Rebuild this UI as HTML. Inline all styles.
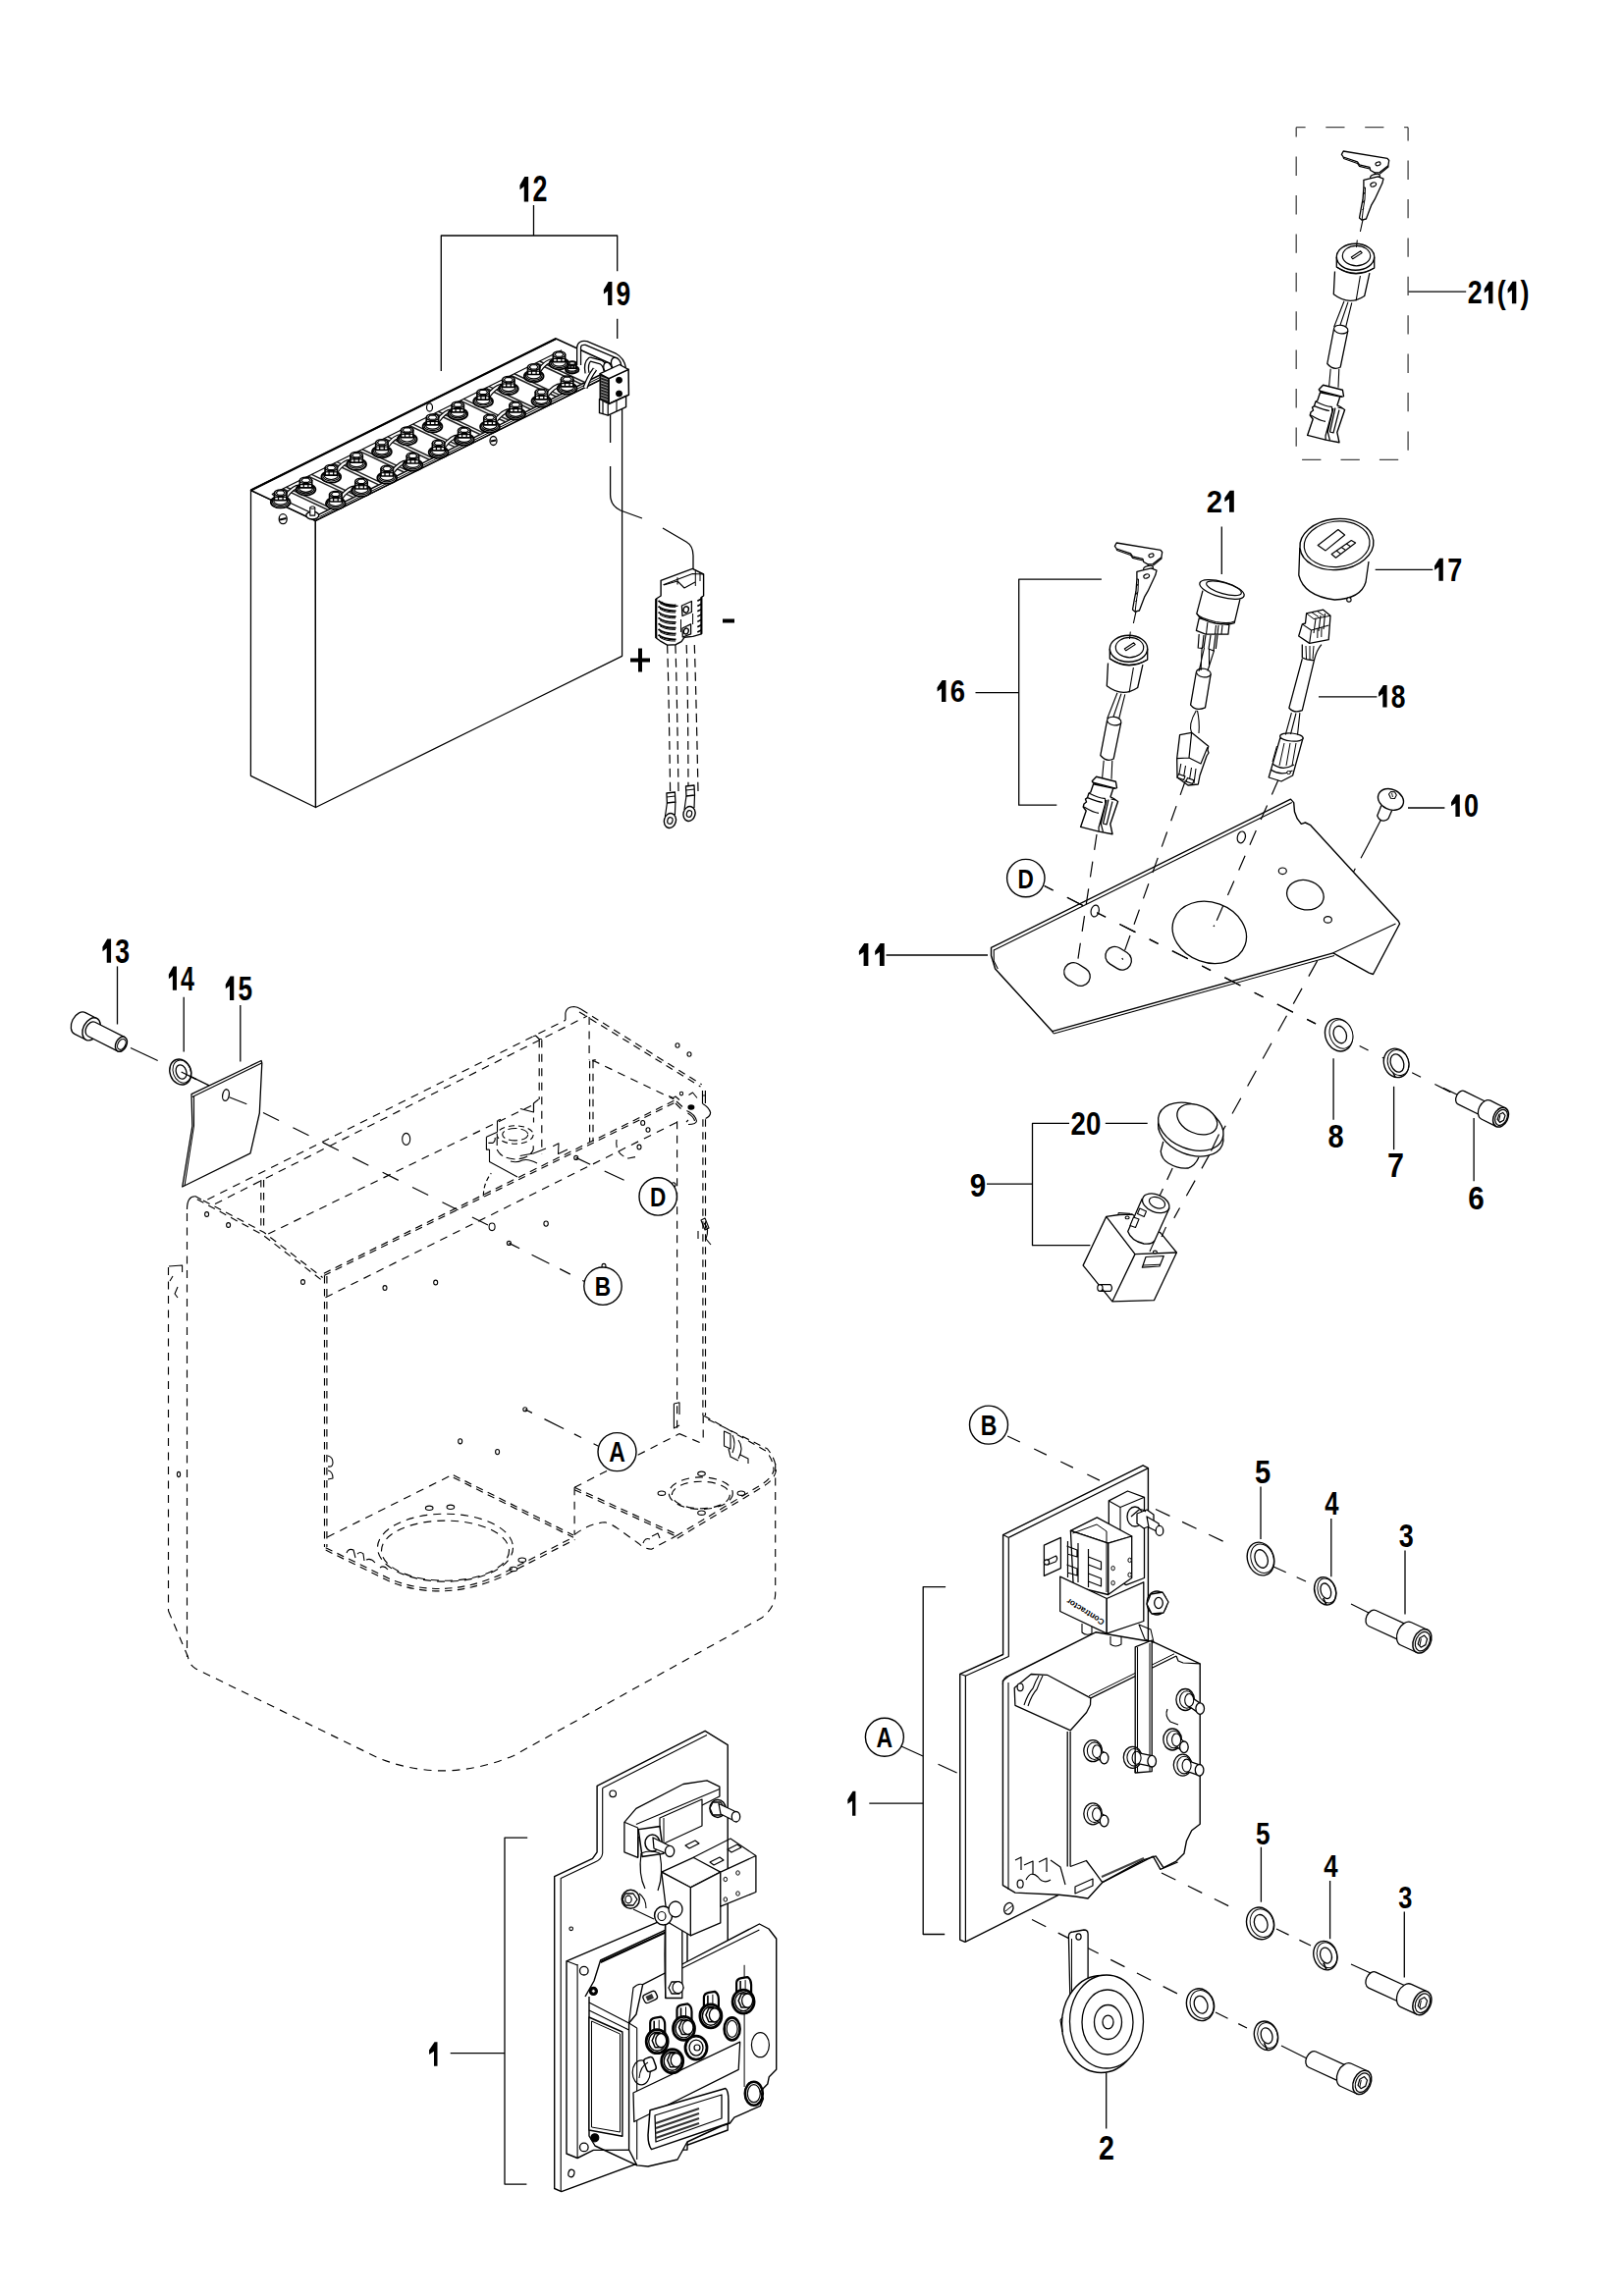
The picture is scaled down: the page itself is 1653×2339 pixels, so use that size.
<!DOCTYPE html>
<html><head><meta charset="utf-8"><style>
html,body{margin:0;padding:0;background:#fff;}
svg{display:block;}
text{font-family:"Liberation Sans",sans-serif;}
</style></head><body>
<svg xmlns="http://www.w3.org/2000/svg" width="1653" height="2339" viewBox="0 0 1653 2339" stroke="#000" fill="none" stroke-linecap="butt" stroke-linejoin="round">
<rect x="0" y="0" width="1653" height="2339" fill="#fff" stroke="none"/>
<path d="M538.15,180.00 L538.15,205.40 L533.78,205.40 L533.78,189.94 L529.53,193.25 L529.40,188.65 L534.31,180.00 Z" fill="#000" stroke="none"/>
<text x="0" y="0" font-size="36.81" font-weight="bold" stroke="none" fill="#000" transform="translate(542.45,205.40) scale(0.7293,1)">2</text>
<path d="M623.40,287.00 L623.40,311.00 L619.10,311.00 L619.10,296.39 L614.93,299.52 L614.80,295.17 L619.63,287.00 Z" fill="#000" stroke="none"/>
<text x="0" y="0" font-size="34.78" font-weight="bold" stroke="none" fill="#000" transform="translate(627.61,311.00) scale(0.7581,1)">9</text>
<text x="0" y="0" font-size="31.88" font-weight="bold" stroke="none" fill="#000" transform="translate(1228.87,521.70) scale(0.9200,1)">2</text>
<path d="M1256.80,499.70 L1256.80,521.70 L1252.02,521.70 L1252.02,508.31 L1247.38,511.18 L1247.24,507.19 L1252.61,499.70 Z" fill="#000" stroke="none"/>
<path d="M1469.82,568.70 L1469.82,591.80 L1465.41,591.80 L1465.41,577.74 L1461.14,580.75 L1461.00,576.57 L1465.95,568.70 Z" fill="#000" stroke="none"/>
<text x="0" y="0" font-size="33.48" font-weight="bold" stroke="none" fill="#000" transform="translate(1474.15,591.80) scale(0.8081,1)">7</text>
<path d="M963.44,692.90 L963.44,715.00 L958.97,715.00 L958.97,701.55 L954.64,704.43 L954.50,700.43 L959.52,692.90 Z" fill="#000" stroke="none"/>
<text x="0" y="0" font-size="32.03" font-weight="bold" stroke="none" fill="#000" transform="translate(967.83,715.00) scale(0.8566,1)">6</text>
<path d="M1412.61,698.00 L1412.61,720.50 L1408.30,720.50 L1408.30,706.80 L1404.13,709.74 L1404.00,705.66 L1408.83,698.00 Z" fill="#000" stroke="none"/>
<text x="0" y="0" font-size="32.61" font-weight="bold" stroke="none" fill="#000" transform="translate(1416.84,720.50) scale(0.8099,1)">8</text>
<path d="M1486.79,809.50 L1486.79,832.00 L1482.40,832.00 L1482.40,818.30 L1478.13,821.24 L1478.00,817.16 L1482.94,809.50 Z" fill="#000" stroke="none"/>
<text x="0" y="0" font-size="32.61" font-weight="bold" stroke="none" fill="#000" transform="translate(1491.11,832.00) scale(0.8272,1)">0</text>
<path d="M884.37,961.10 L884.37,984.10 L879.59,984.10 L879.59,970.10 L874.95,973.10 L874.80,968.93 L880.17,961.10 Z" fill="#000" stroke="none"/>
<path d="M900.70,961.10 L900.70,984.10 L895.91,984.10 L895.91,970.10 L891.27,973.10 L891.13,968.93 L896.50,961.10 Z" fill="#000" stroke="none"/>
<path d="M113.08,956.60 L113.08,980.70 L108.74,980.70 L108.74,966.03 L104.53,969.17 L104.40,964.81 L109.28,956.60 Z" fill="#000" stroke="none"/>
<text x="0" y="0" font-size="34.93" font-weight="bold" stroke="none" fill="#000" transform="translate(117.35,980.70) scale(0.7627,1)">3</text>
<path d="M179.94,984.40 L179.94,1008.80 L175.87,1008.80 L175.87,993.95 L171.92,997.13 L171.80,992.71 L176.37,984.40 Z" fill="#000" stroke="none"/>
<text x="0" y="0" font-size="35.36" font-weight="bold" stroke="none" fill="#000" transform="translate(183.94,1008.80) scale(0.7063,1)">4</text>
<path d="M238.25,994.50 L238.25,1019.10 L233.98,1019.10 L233.98,1004.13 L229.83,1007.33 L229.70,1002.88 L234.50,994.50 Z" fill="#000" stroke="none"/>
<text x="0" y="0" font-size="35.65" font-weight="bold" stroke="none" fill="#000" transform="translate(242.45,1019.10) scale(0.7358,1)">5</text>
<text x="0" y="0" font-size="33.19" font-weight="bold" stroke="none" fill="#000" transform="translate(1090.53,1155.80) scale(0.8318,1)">2</text>
<text x="0" y="0" font-size="33.19" font-weight="bold" stroke="none" fill="#000" transform="translate(1105.88,1155.80) scale(0.8318,1)">0</text>
<text x="0" y="0" font-size="33.62" font-weight="bold" stroke="none" fill="#000" transform="translate(987.87,1219.40) scale(0.8787,1)">9</text>
<text x="0" y="0" font-size="33.62" font-weight="bold" stroke="none" fill="#000" transform="translate(1352.57,1169.40) scale(0.8627,1)">8</text>
<text x="0" y="0" font-size="34.78" font-weight="bold" stroke="none" fill="#000" transform="translate(1412.89,1198.70) scale(0.8766,1)">7</text>
<text x="0" y="0" font-size="33.62" font-weight="bold" stroke="none" fill="#000" transform="translate(1495.30,1231.90) scale(0.8805,1)">6</text>
<text x="0" y="0" font-size="33.19" font-weight="bold" stroke="none" fill="#000" transform="translate(1278.10,1510.80) scale(0.8791,1)">5</text>
<text x="0" y="0" font-size="33.19" font-weight="bold" stroke="none" fill="#000" transform="translate(1349.32,1543.20) scale(0.7701,1)">4</text>
<text x="0" y="0" font-size="33.19" font-weight="bold" stroke="none" fill="#000" transform="translate(1424.68,1575.70) scale(0.8124,1)">3</text>
<path d="M871.40,1824.80 L871.40,1849.70 L868.07,1849.70 L868.07,1834.54 L863.42,1837.79 L863.30,1833.28 L868.57,1824.80 Z" fill="#000" stroke="none"/>
<text x="0" y="0" font-size="31.45" font-weight="bold" stroke="none" fill="#000" transform="translate(1278.89,1878.60) scale(0.8317,1)">5</text>
<text x="0" y="0" font-size="31.45" font-weight="bold" stroke="none" fill="#000" transform="translate(1348.31,1912.10) scale(0.8187,1)">4</text>
<text x="0" y="0" font-size="31.30" font-weight="bold" stroke="none" fill="#000" transform="translate(1424.22,1943.60) scale(0.8099,1)">3</text>
<text x="0" y="0" font-size="34.35" font-weight="bold" stroke="none" fill="#000" transform="translate(1119.00,2200.00) scale(0.8353,1)">2</text>
<path d="M445.50,2080.20 L445.50,2104.80 L442.01,2104.80 L442.01,2089.83 L437.13,2093.03 L437.00,2088.58 L442.53,2080.20 Z" fill="#000" stroke="none"/>
<text x="0" y="0" font-size="32.61" font-weight="bold" stroke="none" fill="#000" transform="translate(1494.86,309.30) scale(0.8236,1)">2</text>
<path d="M1520.43,286.80 L1520.43,309.30 L1516.05,309.30 L1516.05,295.60 L1511.81,298.54 L1511.67,294.46 L1516.59,286.80 Z" fill="#000" stroke="none"/>
<text x="0" y="0" font-size="32.61" font-weight="bold" stroke="none" fill="#000" transform="translate(1524.72,309.30) scale(0.8236,1)">(</text>
<path d="M1544.30,286.80 L1544.30,309.30 L1539.93,309.30 L1539.93,295.60 L1535.68,298.54 L1535.55,294.46 L1540.46,286.80 Z" fill="#000" stroke="none"/>
<text x="0" y="0" font-size="32.61" font-weight="bold" stroke="none" fill="#000" transform="translate(1548.60,309.30) scale(0.8236,1)">)</text>
<line x1="543.5" y1="209.0" x2="543.5" y2="240.0" stroke-width="1.3"/>
<path d="M449.3,378 V240 H628.7 V276.3" stroke-width="1.3" fill="none"/>
<line x1="628.7" y1="324.8" x2="628.7" y2="345.0" stroke-width="1.3"/>
<line x1="1434.2" y1="297.2" x2="1493.2" y2="297.2" stroke-width="1.3"/>
<line x1="1244.3" y1="536.6" x2="1244.3" y2="584.9" stroke-width="1.3"/>
<line x1="1400.7" y1="580.4" x2="1459.3" y2="580.4" stroke-width="1.3"/>
<line x1="993.5" y1="705.7" x2="1037.7" y2="705.7" stroke-width="1.3"/>
<path d="M1121.9,590.1 H1037.7 V820.2 H1076.3" stroke-width="1.3" fill="none"/>
<line x1="1343.0" y1="709.8" x2="1402.4" y2="709.8" stroke-width="1.3"/>
<line x1="1434.0" y1="823.0" x2="1471.4" y2="823.0" stroke-width="1.3"/>
<line x1="902.5" y1="973.0" x2="1006.0" y2="973.0" stroke-width="1.3"/>
<line x1="119.5" y1="984.4" x2="119.5" y2="1043.5" stroke-width="1.3"/>
<line x1="187.2" y1="1015.8" x2="187.2" y2="1071.6" stroke-width="1.3"/>
<line x1="244.8" y1="1024.1" x2="244.8" y2="1081.4" stroke-width="1.3"/>
<line x1="1125.8" y1="1144.4" x2="1168.7" y2="1144.4" stroke-width="1.3"/>
<path d="M1089,1144.4 H1051.5 V1268.7 H1110.4" stroke-width="1.3" fill="none"/>
<line x1="1005.0" y1="1206.2" x2="1051.5" y2="1206.2" stroke-width="1.3"/>
<line x1="1358.1" y1="1078.2" x2="1358.1" y2="1140.8" stroke-width="1.3"/>
<line x1="1419.6" y1="1106.8" x2="1419.6" y2="1171.2" stroke-width="1.3"/>
<line x1="1501.1" y1="1139.0" x2="1501.1" y2="1203.3" stroke-width="1.3"/>
<line x1="1284.0" y1="1514.6" x2="1284.0" y2="1568.0" stroke-width="1.3"/>
<line x1="1355.8" y1="1547.0" x2="1355.8" y2="1606.3" stroke-width="1.3"/>
<line x1="1431.0" y1="1579.5" x2="1431.0" y2="1644.5" stroke-width="1.3"/>
<path d="M963.1,1616.6 H940.2 V1970.5 H962.2" stroke-width="1.3" fill="none"/>
<line x1="885.3" y1="1837.2" x2="940.2" y2="1837.2" stroke-width="1.3"/>
<line x1="1284.4" y1="1881.7" x2="1284.4" y2="1937.7" stroke-width="1.3"/>
<line x1="1354.6" y1="1916.0" x2="1354.6" y2="1975.2" stroke-width="1.3"/>
<line x1="1430.3" y1="1947.6" x2="1430.3" y2="2014.6" stroke-width="1.3"/>
<line x1="1126.7" y1="2111.2" x2="1126.7" y2="2168.4" stroke-width="1.3"/>
<path d="M537.2,1872.1 H514 V2225.1 H536.4" stroke-width="1.3" fill="none"/>
<line x1="458.7" y1="2091.6" x2="514.0" y2="2091.6" stroke-width="1.3"/>
<rect x="642" y="670.5" width="20" height="4" fill="#000" stroke="none"/>
<rect x="650" y="660.5" width="4" height="24" fill="#000" stroke="none"/>
<rect x="736" y="630.5" width="12" height="4" fill="#000" stroke="none"/>
<polygon points="255.5,499.5 321.3,530.5 321.5,822.5 255.4,790.3" stroke-width="1.3" fill="#fff"/>
<polygon points="321.3,530.5 633.6,376.0 633.6,668.3 321.5,822.5" stroke-width="1.3" fill="#fff"/>
<polygon points="255.5,499.5 566.3,345.0 633.6,376.0 321.3,530.5" stroke-width="1.5" fill="#fff"/>
<line x1="255.5" y1="499.5" x2="566.3" y2="345.0" stroke-width="2.2"/>
<line x1="322.9" y1="525.2" x2="618.2" y2="378.5" stroke-width="1.5"/>
<line x1="325.5" y1="526.5" x2="623.9" y2="378.2" stroke-width="1.0"/>
<line x1="276.9" y1="503.5" x2="322.9" y2="525.2" stroke-width="1.2"/>
<line x1="288.2" y1="497.9" x2="334.6" y2="519.8" stroke="#222" stroke-width="1.5"/>
<line x1="291.6" y1="496.2" x2="338.0" y2="518.1" stroke="#222" stroke-width="1.5"/>
<line x1="314.0" y1="485.1" x2="360.4" y2="506.9" stroke="#222" stroke-width="1.5"/>
<line x1="317.4" y1="483.4" x2="363.8" y2="505.2" stroke="#222" stroke-width="1.5"/>
<line x1="339.8" y1="472.3" x2="386.2" y2="494.1" stroke="#222" stroke-width="1.5"/>
<line x1="343.2" y1="470.6" x2="389.6" y2="492.4" stroke="#222" stroke-width="1.5"/>
<line x1="365.6" y1="459.4" x2="412.0" y2="481.3" stroke="#222" stroke-width="1.5"/>
<line x1="369.0" y1="457.7" x2="415.4" y2="479.6" stroke="#222" stroke-width="1.5"/>
<line x1="391.4" y1="446.6" x2="437.8" y2="468.5" stroke="#222" stroke-width="1.5"/>
<line x1="394.8" y1="444.9" x2="441.2" y2="466.8" stroke="#222" stroke-width="1.5"/>
<line x1="417.2" y1="433.8" x2="463.6" y2="455.6" stroke="#222" stroke-width="1.5"/>
<line x1="420.6" y1="432.1" x2="467.0" y2="453.9" stroke="#222" stroke-width="1.5"/>
<line x1="443.0" y1="421.0" x2="489.4" y2="442.8" stroke="#222" stroke-width="1.5"/>
<line x1="446.4" y1="419.3" x2="492.8" y2="441.1" stroke="#222" stroke-width="1.5"/>
<line x1="468.8" y1="408.1" x2="515.2" y2="430.0" stroke="#222" stroke-width="1.5"/>
<line x1="472.2" y1="406.4" x2="518.6" y2="428.3" stroke="#222" stroke-width="1.5"/>
<line x1="494.6" y1="395.3" x2="541.0" y2="417.2" stroke="#222" stroke-width="1.5"/>
<line x1="498.0" y1="393.6" x2="544.4" y2="415.5" stroke="#222" stroke-width="1.5"/>
<line x1="520.4" y1="382.5" x2="566.8" y2="404.3" stroke="#222" stroke-width="1.5"/>
<line x1="523.8" y1="380.8" x2="570.2" y2="402.6" stroke="#222" stroke-width="1.5"/>
<line x1="546.2" y1="369.7" x2="592.5" y2="391.5" stroke="#222" stroke-width="1.5"/>
<line x1="549.6" y1="368.0" x2="596.0" y2="389.8" stroke="#222" stroke-width="1.5"/>
<line x1="276.9" y1="503.5" x2="572.1" y2="356.8" stroke-width="1.2"/>
<path d="M290.7,506.3 Q298.6,495.4 305.5,495.5" stroke-width="4.6" fill="none"/>
<path d="M290.7,506.3 Q298.6,495.4 305.5,495.5" stroke-width="2.2" fill="none" stroke="#fff"/>
<path d="M342.3,480.6 Q350.2,469.7 357.1,469.8" stroke-width="4.6" fill="none"/>
<path d="M342.3,480.6 Q350.2,469.7 357.1,469.8" stroke-width="2.2" fill="none" stroke="#fff"/>
<path d="M393.9,455.0 Q401.8,444.1 408.7,444.2" stroke-width="4.6" fill="none"/>
<path d="M393.9,455.0 Q401.8,444.1 408.7,444.2" stroke-width="2.2" fill="none" stroke="#fff"/>
<path d="M445.5,429.4 Q453.4,418.4 460.3,418.5" stroke-width="4.6" fill="none"/>
<path d="M445.5,429.4 Q453.4,418.4 460.3,418.5" stroke-width="2.2" fill="none" stroke="#fff"/>
<path d="M497.1,403.7 Q505.0,392.8 511.9,392.9" stroke-width="4.6" fill="none"/>
<path d="M497.1,403.7 Q505.0,392.8 511.9,392.9" stroke-width="2.2" fill="none" stroke="#fff"/>
<path d="M548.7,378.1 Q556.6,367.1 563.5,367.2" stroke-width="4.6" fill="none"/>
<path d="M548.7,378.1 Q556.6,367.1 563.5,367.2" stroke-width="2.2" fill="none" stroke="#fff"/>
<path d="M346.8,507.6 Q354.9,496.6 362.0,496.6" stroke-width="4.6" fill="none"/>
<path d="M346.8,507.6 Q354.9,496.6 362.0,496.6" stroke-width="2.2" fill="none" stroke="#fff"/>
<path d="M399.2,481.6 Q407.3,470.6 414.4,470.5" stroke-width="4.6" fill="none"/>
<path d="M399.2,481.6 Q407.3,470.6 414.4,470.5" stroke-width="2.2" fill="none" stroke="#fff"/>
<path d="M451.6,455.5 Q459.7,444.5 466.8,444.5" stroke-width="4.6" fill="none"/>
<path d="M451.6,455.5 Q459.7,444.5 466.8,444.5" stroke-width="2.2" fill="none" stroke="#fff"/>
<path d="M504.0,429.5 Q512.1,418.5 519.2,418.4" stroke-width="4.6" fill="none"/>
<path d="M504.0,429.5 Q512.1,418.5 519.2,418.4" stroke-width="2.2" fill="none" stroke="#fff"/>
<path d="M556.4,403.4 Q564.5,392.4 571.6,392.4" stroke-width="4.6" fill="none"/>
<path d="M556.4,403.4 Q564.5,392.4 571.6,392.4" stroke-width="2.2" fill="none" stroke="#fff"/>
<ellipse cx="285.7" cy="511.5" rx="9.9" ry="5.9" stroke-width="1.8" fill="#fff"/>
<ellipse cx="285.7" cy="510.8" rx="8.4" ry="4.8" stroke-width="1.2" fill="#fff"/>
<ellipse cx="285.7" cy="510.2" rx="7.0" ry="4.0" stroke-width="1.2" fill="#fff"/>
<path d="M279.5,509.7 V502.2 H291.9 V509.7 Z" fill="#fff" stroke-width="1.7"/>
<line x1="283.5" y1="502.5" x2="283.5" y2="509.7" stroke-width="1.3"/>
<line x1="288.1" y1="502.5" x2="288.1" y2="509.7" stroke-width="1.3"/>
<line x1="279.5" y1="506.4" x2="291.9" y2="506.4" stroke-width="1.2"/>
<ellipse cx="285.7" cy="502.2" rx="6.2" ry="3.2" stroke-width="1.5" fill="#fff"/>
<polygon points="281.1,502.2 283.3,500.0 288.1,500.0 290.3,502.2 288.1,504.2 283.3,504.2" fill="#fff" stroke-width="1.1"/>
<ellipse cx="311.5" cy="498.6" rx="9.9" ry="5.9" stroke-width="1.8" fill="#fff"/>
<ellipse cx="311.5" cy="498.0" rx="8.4" ry="4.8" stroke-width="1.2" fill="#fff"/>
<ellipse cx="311.5" cy="497.3" rx="7.0" ry="4.0" stroke-width="1.2" fill="#fff"/>
<path d="M305.3,496.9 V489.4 H317.7 V496.9 Z" fill="#fff" stroke-width="1.7"/>
<line x1="309.3" y1="489.6" x2="309.3" y2="496.9" stroke-width="1.3"/>
<line x1="313.9" y1="489.6" x2="313.9" y2="496.9" stroke-width="1.3"/>
<line x1="305.3" y1="493.6" x2="317.7" y2="493.6" stroke-width="1.2"/>
<ellipse cx="311.5" cy="489.4" rx="6.2" ry="3.2" stroke-width="1.5" fill="#fff"/>
<polygon points="306.9,489.4 309.1,487.2 313.9,487.2 316.1,489.4 313.9,491.4 309.1,491.4" fill="#fff" stroke-width="1.1"/>
<ellipse cx="337.3" cy="485.8" rx="9.9" ry="5.9" stroke-width="1.8" fill="#fff"/>
<ellipse cx="337.3" cy="485.2" rx="8.4" ry="4.8" stroke-width="1.2" fill="#fff"/>
<ellipse cx="337.3" cy="484.5" rx="7.0" ry="4.0" stroke-width="1.2" fill="#fff"/>
<path d="M331.1,484.1 V476.6 H343.5 V484.1 Z" fill="#fff" stroke-width="1.7"/>
<line x1="335.1" y1="476.8" x2="335.1" y2="484.1" stroke-width="1.3"/>
<line x1="339.7" y1="476.8" x2="339.7" y2="484.1" stroke-width="1.3"/>
<line x1="331.1" y1="480.8" x2="343.5" y2="480.8" stroke-width="1.2"/>
<ellipse cx="337.3" cy="476.6" rx="6.2" ry="3.2" stroke-width="1.5" fill="#fff"/>
<polygon points="332.7,476.6 334.9,474.4 339.7,474.4 341.9,476.6 339.7,478.6 334.9,478.6" fill="#fff" stroke-width="1.1"/>
<ellipse cx="363.1" cy="473.0" rx="9.9" ry="5.9" stroke-width="1.8" fill="#fff"/>
<ellipse cx="363.1" cy="472.3" rx="8.4" ry="4.8" stroke-width="1.2" fill="#fff"/>
<ellipse cx="363.1" cy="471.7" rx="7.0" ry="4.0" stroke-width="1.2" fill="#fff"/>
<path d="M356.9,471.2 V463.8 H369.3 V471.2 Z" fill="#fff" stroke-width="1.7"/>
<line x1="360.9" y1="464.0" x2="360.9" y2="471.2" stroke-width="1.3"/>
<line x1="365.5" y1="464.0" x2="365.5" y2="471.2" stroke-width="1.3"/>
<line x1="356.9" y1="467.9" x2="369.3" y2="467.9" stroke-width="1.2"/>
<ellipse cx="363.1" cy="463.8" rx="6.2" ry="3.2" stroke-width="1.5" fill="#fff"/>
<polygon points="358.5,463.8 360.7,461.6 365.5,461.6 367.7,463.8 365.5,465.7 360.7,465.7" fill="#fff" stroke-width="1.1"/>
<ellipse cx="388.9" cy="460.2" rx="9.9" ry="5.9" stroke-width="1.8" fill="#fff"/>
<ellipse cx="388.9" cy="459.5" rx="8.4" ry="4.8" stroke-width="1.2" fill="#fff"/>
<ellipse cx="388.9" cy="458.9" rx="7.0" ry="4.0" stroke-width="1.2" fill="#fff"/>
<path d="M382.7,458.4 V450.9 H395.1 V458.4 Z" fill="#fff" stroke-width="1.7"/>
<line x1="386.7" y1="451.2" x2="386.7" y2="458.4" stroke-width="1.3"/>
<line x1="391.3" y1="451.2" x2="391.3" y2="458.4" stroke-width="1.3"/>
<line x1="382.7" y1="455.1" x2="395.1" y2="455.1" stroke-width="1.2"/>
<ellipse cx="388.9" cy="450.9" rx="6.2" ry="3.2" stroke-width="1.5" fill="#fff"/>
<polygon points="384.3,450.9 386.5,448.7 391.3,448.7 393.5,450.9 391.3,452.9 386.5,452.9" fill="#fff" stroke-width="1.1"/>
<ellipse cx="414.7" cy="447.4" rx="9.9" ry="5.9" stroke-width="1.8" fill="#fff"/>
<ellipse cx="414.7" cy="446.7" rx="8.4" ry="4.8" stroke-width="1.2" fill="#fff"/>
<ellipse cx="414.7" cy="446.0" rx="7.0" ry="4.0" stroke-width="1.2" fill="#fff"/>
<path d="M408.5,445.6 V438.1 H420.8 V445.6 Z" fill="#fff" stroke-width="1.7"/>
<line x1="412.5" y1="438.3" x2="412.5" y2="445.6" stroke-width="1.3"/>
<line x1="417.1" y1="438.3" x2="417.1" y2="445.6" stroke-width="1.3"/>
<line x1="408.5" y1="442.3" x2="420.8" y2="442.3" stroke-width="1.2"/>
<ellipse cx="414.7" cy="438.1" rx="6.2" ry="3.2" stroke-width="1.5" fill="#fff"/>
<polygon points="410.1,438.1 412.3,435.9 417.1,435.9 419.3,438.1 417.1,440.1 412.3,440.1" fill="#fff" stroke-width="1.1"/>
<ellipse cx="440.5" cy="434.5" rx="9.9" ry="5.9" stroke-width="1.8" fill="#fff"/>
<ellipse cx="440.5" cy="433.9" rx="8.4" ry="4.8" stroke-width="1.2" fill="#fff"/>
<ellipse cx="440.5" cy="433.2" rx="7.0" ry="4.0" stroke-width="1.2" fill="#fff"/>
<path d="M434.3,432.8 V425.3 H446.6 V432.8 Z" fill="#fff" stroke-width="1.7"/>
<line x1="438.3" y1="425.5" x2="438.3" y2="432.8" stroke-width="1.3"/>
<line x1="442.9" y1="425.5" x2="442.9" y2="432.8" stroke-width="1.3"/>
<line x1="434.3" y1="429.5" x2="446.6" y2="429.5" stroke-width="1.2"/>
<ellipse cx="440.5" cy="425.3" rx="6.2" ry="3.2" stroke-width="1.5" fill="#fff"/>
<polygon points="435.9,425.3 438.1,423.1 442.9,423.1 445.1,425.3 442.9,427.3 438.1,427.3" fill="#fff" stroke-width="1.1"/>
<ellipse cx="466.3" cy="421.7" rx="9.9" ry="5.9" stroke-width="1.8" fill="#fff"/>
<ellipse cx="466.3" cy="421.0" rx="8.4" ry="4.8" stroke-width="1.2" fill="#fff"/>
<ellipse cx="466.3" cy="420.4" rx="7.0" ry="4.0" stroke-width="1.2" fill="#fff"/>
<path d="M460.1,419.9 V412.5 H472.4 V419.9 Z" fill="#fff" stroke-width="1.7"/>
<line x1="464.1" y1="412.7" x2="464.1" y2="419.9" stroke-width="1.3"/>
<line x1="468.7" y1="412.7" x2="468.7" y2="419.9" stroke-width="1.3"/>
<line x1="460.1" y1="416.6" x2="472.4" y2="416.6" stroke-width="1.2"/>
<ellipse cx="466.3" cy="412.5" rx="6.2" ry="3.2" stroke-width="1.5" fill="#fff"/>
<polygon points="461.7,412.5 463.9,410.3 468.7,410.3 470.9,412.5 468.7,414.4 463.9,414.4" fill="#fff" stroke-width="1.1"/>
<ellipse cx="492.1" cy="408.9" rx="9.9" ry="5.9" stroke-width="1.8" fill="#fff"/>
<ellipse cx="492.1" cy="408.2" rx="8.4" ry="4.8" stroke-width="1.2" fill="#fff"/>
<ellipse cx="492.1" cy="407.6" rx="7.0" ry="4.0" stroke-width="1.2" fill="#fff"/>
<path d="M485.9,407.1 V399.6 H498.2 V407.1 Z" fill="#fff" stroke-width="1.7"/>
<line x1="489.9" y1="399.9" x2="489.9" y2="407.1" stroke-width="1.3"/>
<line x1="494.5" y1="399.9" x2="494.5" y2="407.1" stroke-width="1.3"/>
<line x1="485.9" y1="403.8" x2="498.2" y2="403.8" stroke-width="1.2"/>
<ellipse cx="492.1" cy="399.6" rx="6.2" ry="3.2" stroke-width="1.5" fill="#fff"/>
<polygon points="487.5,399.6 489.7,397.4 494.5,397.4 496.7,399.6 494.5,401.6 489.7,401.6" fill="#fff" stroke-width="1.1"/>
<ellipse cx="517.9" cy="396.1" rx="9.9" ry="5.9" stroke-width="1.8" fill="#fff"/>
<ellipse cx="517.9" cy="395.4" rx="8.4" ry="4.8" stroke-width="1.2" fill="#fff"/>
<ellipse cx="517.9" cy="394.7" rx="7.0" ry="4.0" stroke-width="1.2" fill="#fff"/>
<path d="M511.7,394.3 V386.8 H524.0 V394.3 Z" fill="#fff" stroke-width="1.7"/>
<line x1="515.7" y1="387.0" x2="515.7" y2="394.3" stroke-width="1.3"/>
<line x1="520.3" y1="387.0" x2="520.3" y2="394.3" stroke-width="1.3"/>
<line x1="511.7" y1="391.0" x2="524.0" y2="391.0" stroke-width="1.2"/>
<ellipse cx="517.9" cy="386.8" rx="6.2" ry="3.2" stroke-width="1.5" fill="#fff"/>
<polygon points="513.3,386.8 515.5,384.6 520.3,384.6 522.5,386.8 520.3,388.8 515.5,388.8" fill="#fff" stroke-width="1.1"/>
<ellipse cx="543.7" cy="383.2" rx="9.9" ry="5.9" stroke-width="1.8" fill="#fff"/>
<ellipse cx="543.7" cy="382.6" rx="8.4" ry="4.8" stroke-width="1.2" fill="#fff"/>
<ellipse cx="543.7" cy="381.9" rx="7.0" ry="4.0" stroke-width="1.2" fill="#fff"/>
<path d="M537.5,381.5 V374.0 H549.8 V381.5 Z" fill="#fff" stroke-width="1.7"/>
<line x1="541.5" y1="374.2" x2="541.5" y2="381.5" stroke-width="1.3"/>
<line x1="546.1" y1="374.2" x2="546.1" y2="381.5" stroke-width="1.3"/>
<line x1="537.5" y1="378.2" x2="549.8" y2="378.2" stroke-width="1.2"/>
<ellipse cx="543.7" cy="374.0" rx="6.2" ry="3.2" stroke-width="1.5" fill="#fff"/>
<polygon points="539.1,374.0 541.3,371.8 546.1,371.8 548.3,374.0 546.1,376.0 541.3,376.0" fill="#fff" stroke-width="1.1"/>
<ellipse cx="569.5" cy="370.4" rx="9.9" ry="5.9" stroke-width="1.8" fill="#fff"/>
<ellipse cx="569.5" cy="369.8" rx="8.4" ry="4.8" stroke-width="1.2" fill="#fff"/>
<ellipse cx="569.5" cy="369.1" rx="7.0" ry="4.0" stroke-width="1.2" fill="#fff"/>
<path d="M563.3,368.7 V361.2 H575.6 V368.7 Z" fill="#fff" stroke-width="1.7"/>
<line x1="567.3" y1="361.4" x2="567.3" y2="368.7" stroke-width="1.3"/>
<line x1="571.9" y1="361.4" x2="571.9" y2="368.7" stroke-width="1.3"/>
<line x1="563.3" y1="365.4" x2="575.6" y2="365.4" stroke-width="1.2"/>
<ellipse cx="569.5" cy="361.2" rx="6.2" ry="3.2" stroke-width="1.5" fill="#fff"/>
<polygon points="564.8,361.2 567.0,359.0 571.9,359.0 574.1,361.2 571.9,363.2 567.0,363.2" fill="#fff" stroke-width="1.1"/>
<ellipse cx="341.8" cy="512.8" rx="9.9" ry="5.9" stroke-width="1.8" fill="#fff"/>
<ellipse cx="341.8" cy="512.1" rx="8.4" ry="4.8" stroke-width="1.2" fill="#fff"/>
<ellipse cx="341.8" cy="511.5" rx="7.0" ry="4.0" stroke-width="1.2" fill="#fff"/>
<path d="M335.6,511.0 V503.6 H348.0 V511.0 Z" fill="#fff" stroke-width="1.7"/>
<line x1="339.6" y1="503.8" x2="339.6" y2="511.0" stroke-width="1.3"/>
<line x1="344.2" y1="503.8" x2="344.2" y2="511.0" stroke-width="1.3"/>
<line x1="335.6" y1="507.7" x2="348.0" y2="507.7" stroke-width="1.2"/>
<ellipse cx="341.8" cy="503.6" rx="6.2" ry="3.2" stroke-width="1.5" fill="#fff"/>
<polygon points="337.2,503.6 339.4,501.4 344.2,501.4 346.4,503.6 344.2,505.5 339.4,505.5" fill="#fff" stroke-width="1.1"/>
<ellipse cx="368.0" cy="499.8" rx="9.9" ry="5.9" stroke-width="1.8" fill="#fff"/>
<ellipse cx="368.0" cy="499.1" rx="8.4" ry="4.8" stroke-width="1.2" fill="#fff"/>
<ellipse cx="368.0" cy="498.5" rx="7.0" ry="4.0" stroke-width="1.2" fill="#fff"/>
<path d="M361.8,498.0 V490.5 H374.2 V498.0 Z" fill="#fff" stroke-width="1.7"/>
<line x1="365.8" y1="490.8" x2="365.8" y2="498.0" stroke-width="1.3"/>
<line x1="370.4" y1="490.8" x2="370.4" y2="498.0" stroke-width="1.3"/>
<line x1="361.8" y1="494.7" x2="374.2" y2="494.7" stroke-width="1.2"/>
<ellipse cx="368.0" cy="490.5" rx="6.2" ry="3.2" stroke-width="1.5" fill="#fff"/>
<polygon points="363.4,490.5 365.6,488.3 370.4,488.3 372.6,490.5 370.4,492.5 365.6,492.5" fill="#fff" stroke-width="1.1"/>
<ellipse cx="394.2" cy="486.8" rx="9.9" ry="5.9" stroke-width="1.8" fill="#fff"/>
<ellipse cx="394.2" cy="486.1" rx="8.4" ry="4.8" stroke-width="1.2" fill="#fff"/>
<ellipse cx="394.2" cy="485.4" rx="7.0" ry="4.0" stroke-width="1.2" fill="#fff"/>
<path d="M388.0,485.0 V477.5 H400.4 V485.0 Z" fill="#fff" stroke-width="1.7"/>
<line x1="392.0" y1="477.7" x2="392.0" y2="485.0" stroke-width="1.3"/>
<line x1="396.6" y1="477.7" x2="396.6" y2="485.0" stroke-width="1.3"/>
<line x1="388.0" y1="481.7" x2="400.4" y2="481.7" stroke-width="1.2"/>
<ellipse cx="394.2" cy="477.5" rx="6.2" ry="3.2" stroke-width="1.5" fill="#fff"/>
<polygon points="389.6,477.5 391.8,475.3 396.6,475.3 398.8,477.5 396.6,479.5 391.8,479.5" fill="#fff" stroke-width="1.1"/>
<ellipse cx="420.4" cy="473.7" rx="9.9" ry="5.9" stroke-width="1.8" fill="#fff"/>
<ellipse cx="420.4" cy="473.1" rx="8.4" ry="4.8" stroke-width="1.2" fill="#fff"/>
<ellipse cx="420.4" cy="472.4" rx="7.0" ry="4.0" stroke-width="1.2" fill="#fff"/>
<path d="M414.2,472.0 V464.5 H426.6 V472.0 Z" fill="#fff" stroke-width="1.7"/>
<line x1="418.2" y1="464.7" x2="418.2" y2="472.0" stroke-width="1.3"/>
<line x1="422.8" y1="464.7" x2="422.8" y2="472.0" stroke-width="1.3"/>
<line x1="414.2" y1="468.7" x2="426.6" y2="468.7" stroke-width="1.2"/>
<ellipse cx="420.4" cy="464.5" rx="6.2" ry="3.2" stroke-width="1.5" fill="#fff"/>
<polygon points="415.8,464.5 418.0,462.3 422.8,462.3 425.0,464.5 422.8,466.5 418.0,466.5" fill="#fff" stroke-width="1.1"/>
<ellipse cx="446.6" cy="460.7" rx="9.9" ry="5.9" stroke-width="1.8" fill="#fff"/>
<ellipse cx="446.6" cy="460.0" rx="8.4" ry="4.8" stroke-width="1.2" fill="#fff"/>
<ellipse cx="446.6" cy="459.4" rx="7.0" ry="4.0" stroke-width="1.2" fill="#fff"/>
<path d="M440.4,458.9 V451.5 H452.8 V458.9 Z" fill="#fff" stroke-width="1.7"/>
<line x1="444.4" y1="451.7" x2="444.4" y2="458.9" stroke-width="1.3"/>
<line x1="449.0" y1="451.7" x2="449.0" y2="458.9" stroke-width="1.3"/>
<line x1="440.4" y1="455.6" x2="452.8" y2="455.6" stroke-width="1.2"/>
<ellipse cx="446.6" cy="451.5" rx="6.2" ry="3.2" stroke-width="1.5" fill="#fff"/>
<polygon points="442.0,451.5 444.2,449.3 449.0,449.3 451.2,451.5 449.0,453.4 444.2,453.4" fill="#fff" stroke-width="1.1"/>
<ellipse cx="472.8" cy="447.7" rx="9.9" ry="5.9" stroke-width="1.8" fill="#fff"/>
<ellipse cx="472.8" cy="447.0" rx="8.4" ry="4.8" stroke-width="1.2" fill="#fff"/>
<ellipse cx="472.8" cy="446.4" rx="7.0" ry="4.0" stroke-width="1.2" fill="#fff"/>
<path d="M466.6,445.9 V438.4 H479.0 V445.9 Z" fill="#fff" stroke-width="1.7"/>
<line x1="470.6" y1="438.7" x2="470.6" y2="445.9" stroke-width="1.3"/>
<line x1="475.2" y1="438.7" x2="475.2" y2="445.9" stroke-width="1.3"/>
<line x1="466.6" y1="442.6" x2="479.0" y2="442.6" stroke-width="1.2"/>
<ellipse cx="472.8" cy="438.4" rx="6.2" ry="3.2" stroke-width="1.5" fill="#fff"/>
<polygon points="468.2,438.4 470.4,436.2 475.2,436.2 477.4,438.4 475.2,440.4 470.4,440.4" fill="#fff" stroke-width="1.1"/>
<ellipse cx="499.0" cy="434.7" rx="9.9" ry="5.9" stroke-width="1.8" fill="#fff"/>
<ellipse cx="499.0" cy="434.0" rx="8.4" ry="4.8" stroke-width="1.2" fill="#fff"/>
<ellipse cx="499.0" cy="433.3" rx="7.0" ry="4.0" stroke-width="1.2" fill="#fff"/>
<path d="M492.8,432.9 V425.4 H505.2 V432.9 Z" fill="#fff" stroke-width="1.7"/>
<line x1="496.8" y1="425.6" x2="496.8" y2="432.9" stroke-width="1.3"/>
<line x1="501.4" y1="425.6" x2="501.4" y2="432.9" stroke-width="1.3"/>
<line x1="492.8" y1="429.6" x2="505.2" y2="429.6" stroke-width="1.2"/>
<ellipse cx="499.0" cy="425.4" rx="6.2" ry="3.2" stroke-width="1.5" fill="#fff"/>
<polygon points="494.4,425.4 496.6,423.2 501.4,423.2 503.6,425.4 501.4,427.4 496.6,427.4" fill="#fff" stroke-width="1.1"/>
<ellipse cx="525.2" cy="421.6" rx="9.9" ry="5.9" stroke-width="1.8" fill="#fff"/>
<ellipse cx="525.2" cy="421.0" rx="8.4" ry="4.8" stroke-width="1.2" fill="#fff"/>
<ellipse cx="525.2" cy="420.3" rx="7.0" ry="4.0" stroke-width="1.2" fill="#fff"/>
<path d="M519.0,419.9 V412.4 H531.4 V419.9 Z" fill="#fff" stroke-width="1.7"/>
<line x1="523.0" y1="412.6" x2="523.0" y2="419.9" stroke-width="1.3"/>
<line x1="527.6" y1="412.6" x2="527.6" y2="419.9" stroke-width="1.3"/>
<line x1="519.0" y1="416.6" x2="531.4" y2="416.6" stroke-width="1.2"/>
<ellipse cx="525.2" cy="412.4" rx="6.2" ry="3.2" stroke-width="1.5" fill="#fff"/>
<polygon points="520.6,412.4 522.8,410.2 527.6,410.2 529.8,412.4 527.6,414.4 522.8,414.4" fill="#fff" stroke-width="1.1"/>
<ellipse cx="551.4" cy="408.6" rx="9.9" ry="5.9" stroke-width="1.8" fill="#fff"/>
<ellipse cx="551.4" cy="407.9" rx="8.4" ry="4.8" stroke-width="1.2" fill="#fff"/>
<ellipse cx="551.4" cy="407.3" rx="7.0" ry="4.0" stroke-width="1.2" fill="#fff"/>
<path d="M545.2,406.8 V399.4 H557.6 V406.8 Z" fill="#fff" stroke-width="1.7"/>
<line x1="549.2" y1="399.6" x2="549.2" y2="406.8" stroke-width="1.3"/>
<line x1="553.8" y1="399.6" x2="553.8" y2="406.8" stroke-width="1.3"/>
<line x1="545.2" y1="403.5" x2="557.6" y2="403.5" stroke-width="1.2"/>
<ellipse cx="551.4" cy="399.4" rx="6.2" ry="3.2" stroke-width="1.5" fill="#fff"/>
<polygon points="546.8,399.4 549.0,397.2 553.8,397.2 556.0,399.4 553.8,401.3 549.0,401.3" fill="#fff" stroke-width="1.1"/>
<ellipse cx="577.6" cy="395.6" rx="9.9" ry="5.9" stroke-width="1.8" fill="#fff"/>
<ellipse cx="577.6" cy="394.9" rx="8.4" ry="4.8" stroke-width="1.2" fill="#fff"/>
<ellipse cx="577.6" cy="394.3" rx="7.0" ry="4.0" stroke-width="1.2" fill="#fff"/>
<path d="M571.4,393.8 V386.3 H583.8 V393.8 Z" fill="#fff" stroke-width="1.7"/>
<line x1="575.4" y1="386.6" x2="575.4" y2="393.8" stroke-width="1.3"/>
<line x1="580.0" y1="386.6" x2="580.0" y2="393.8" stroke-width="1.3"/>
<line x1="571.4" y1="390.5" x2="583.8" y2="390.5" stroke-width="1.2"/>
<ellipse cx="577.6" cy="386.3" rx="6.2" ry="3.2" stroke-width="1.5" fill="#fff"/>
<polygon points="573.0,386.3 575.2,384.1 580.0,384.1 582.2,386.3 580.0,388.3 575.2,388.3" fill="#fff" stroke-width="1.1"/>
<ellipse cx="582.7" cy="376.4" rx="6.8" ry="4.1" stroke-width="1.8" fill="#fff"/>
<ellipse cx="582.7" cy="375.9" rx="5.7" ry="3.3" stroke-width="1.2" fill="#fff"/>
<ellipse cx="582.7" cy="375.4" rx="4.8" ry="2.7" stroke-width="1.2" fill="#fff"/>
<path d="M578.5,375.1 V370.1 H586.9 V375.1 Z" fill="#fff" stroke-width="1.7"/>
<line x1="581.2" y1="370.2" x2="581.2" y2="375.1" stroke-width="1.3"/>
<line x1="584.4" y1="370.2" x2="584.4" y2="375.1" stroke-width="1.3"/>
<line x1="578.5" y1="372.9" x2="586.9" y2="372.9" stroke-width="1.2"/>
<ellipse cx="582.7" cy="370.1" rx="4.2" ry="2.2" stroke-width="1.5" fill="#fff"/>
<polygon points="579.6,370.1 581.1,368.6 584.4,368.6 585.9,370.1 584.4,371.4 581.1,371.4" fill="#fff" stroke-width="1.1"/>
<ellipse cx="318.3" cy="525.1" rx="6.5" ry="3.8" stroke-width="1.4" fill="#fff"/>
<rect x="315.8" y="517.1" width="5" height="8" fill="#fff" stroke-width="1.1"/>
<ellipse cx="318.3" cy="517.1" rx="2.5" ry="1.2" stroke-width="1" fill="#fff"/>
<ellipse cx="288.2" cy="528.7" rx="4.0" ry="5.0" stroke-width="1.3" fill="#fff"/>
<line x1="285.0" y1="529.5" x2="291.5" y2="528.0" stroke-width="1.8"/>
<ellipse cx="502.5" cy="449.0" rx="3.5" ry="4.5" stroke-width="1.3" fill="#fff"/>
<line x1="500.0" y1="449.5" x2="505.0" y2="448.5" stroke-width="1.8"/>
<ellipse cx="437.5" cy="415.0" rx="3.0" ry="4.2" stroke-width="1.2" fill="#fff"/>
<path d="M589.6,372 V354 Q590,348.5 597,349.5 L626.5,362 Q634,366 635.5,375" stroke-width="5.2" fill="none"/>
<path d="M589.6,372 V354 Q590,348.5 597,349.5 L626.5,362 Q634,366 635.5,375" stroke-width="2.6" fill="none" stroke="#fff"/>
<path d="M598,380 Q596,370 601,366 L612,369 Q616,371 617,378" stroke-width="5.2" fill="none"/>
<path d="M598,380 Q596,370 601,366 L612,369 Q616,371 617,378" stroke-width="2.6" fill="none" stroke="#fff"/>
<path d="M596,395 Q600,384 606,376" stroke-width="5.2" fill="none"/>
<path d="M596,395 Q600,384 606,376" stroke-width="2.6" fill="none" stroke="#fff"/>
<ellipse cx="627.5" cy="371.0" rx="4.8" ry="7.0" stroke-width="1.4" fill="#fff" transform="rotate(-20 627.5 371.0)"/>
<ellipse cx="619.0" cy="375.0" rx="4.0" ry="6.0" stroke-width="1.3" fill="#fff" transform="rotate(-20 619.0 375.0)"/>
<polygon points="611.1,380.7 620.1,385.6 620.1,411.5 611.1,406.5" stroke-width="1.2" fill="#222"/>
<line x1="612.0" y1="384.0" x2="619.2" y2="386.5" stroke-width="0.8" stroke="#bbb"/>
<line x1="612.0" y1="387.0" x2="619.2" y2="389.5" stroke-width="0.8" stroke="#bbb"/>
<line x1="612.0" y1="390.0" x2="619.2" y2="392.5" stroke-width="0.8" stroke="#bbb"/>
<line x1="612.0" y1="393.0" x2="619.2" y2="395.5" stroke-width="0.8" stroke="#bbb"/>
<line x1="612.0" y1="396.0" x2="619.2" y2="398.5" stroke-width="0.8" stroke="#bbb"/>
<line x1="612.0" y1="399.0" x2="619.2" y2="401.5" stroke-width="0.8" stroke="#bbb"/>
<line x1="612.0" y1="402.0" x2="619.2" y2="404.5" stroke-width="0.8" stroke="#bbb"/>
<line x1="612.0" y1="405.0" x2="619.2" y2="407.5" stroke-width="0.8" stroke="#bbb"/>
<polygon points="620.1,385.6 640.1,376.4 640.4,402.2 620.1,411.5" stroke-width="1.5" fill="#fff"/>
<polygon points="611.1,380.7 631.0,371.5 640.1,376.4 620.1,385.6" stroke-width="1.3" fill="#fff"/>
<polygon points="610.5,406.5 610.5,420.7 619.2,423.2 637.6,414.6 637.6,403.5 620.1,411.5" stroke-width="1.4" fill="#fff"/>
<line x1="614.0" y1="408.5" x2="614.0" y2="422.0" stroke-width="1.2"/>
<line x1="619.2" y1="411.5" x2="619.2" y2="423.2" stroke-width="1.2"/>
<line x1="628.0" y1="407.5" x2="628.0" y2="419.0" stroke-width="1.1"/>
<ellipse cx="630.5" cy="387.3" rx="3.0" ry="3.0" stroke-width="1" fill="#000"/>
<ellipse cx="630.5" cy="401.0" rx="3.0" ry="3.0" stroke-width="1" fill="#000"/>
<line x1="621.6" y1="422.6" x2="621.6" y2="451.0" stroke-width="1.3"/>
<path d="M621.6,475 V504 Q621.6,515 632,520 L654,528" stroke-width="1.3" fill="none"/>
<path d="M675,538 L699,552 Q706,556 706,566 V580" stroke-width="1.3" fill="none"/>
<polygon points="673.1,597.9 673.1,591.3 705.3,579.4 716.6,585.0 716.6,607.0 714.4,608.3 714.4,645.8 705.7,648.4 697.0,649.3 694.0,653.6 688.3,656.7 679.6,657.1 672.2,652.8 668.3,650.0 668.3,610.0 673.1,607.0" stroke-width="1.4" fill="#fff"/>
<path d="M675.5,595.7 L705.3,584.5 L716.6,585" stroke-width="1.2" fill="none"/>
<path d="M676,596 L690,592 M690,588.3 V595.5 M690,592 L697,599 L708,593" stroke-width="1.1" fill="none"/>
<path d="M708.3,580.2 V597 M713,583 V592" stroke-width="1.0" fill="none"/>
<path d="M670.5,612.0 Q677,617.0 688.5,616.5" stroke-width="1.8" fill="none"/>
<path d="M672,614.5 Q678,618.5 688,618.2" stroke-width="1.0" fill="none"/>
<path d="M670.5,617.8 Q677,622.8 688.5,622.3" stroke-width="1.8" fill="none"/>
<path d="M672,620.3 Q678,624.3 688,624.0" stroke-width="1.0" fill="none"/>
<path d="M670.5,623.6 Q677,628.6 688.5,628.1" stroke-width="1.8" fill="none"/>
<path d="M672,626.1 Q678,630.1 688,629.8" stroke-width="1.0" fill="none"/>
<path d="M670.5,629.4 Q677,634.4 688.5,633.9" stroke-width="1.8" fill="none"/>
<path d="M672,631.9 Q678,635.9 688,635.6" stroke-width="1.0" fill="none"/>
<path d="M670.5,635.2 Q677,640.2 688.5,639.7" stroke-width="1.8" fill="none"/>
<path d="M672,637.7 Q678,641.7 688,641.4" stroke-width="1.0" fill="none"/>
<path d="M670.5,641.0 Q677,646.0 688.5,645.5" stroke-width="1.8" fill="none"/>
<path d="M672,643.5 Q678,647.5 688,647.2" stroke-width="1.0" fill="none"/>
<path d="M670.5,646.8 Q677,651.8 688.5,651.3" stroke-width="1.8" fill="none"/>
<path d="M672,649.3 Q678,653.3 688,653.0" stroke-width="1.0" fill="none"/>
<path d="M668.3,610 Q668,640 668.3,650" stroke-width="2.2" fill="none"/>
<path d="M673.5,613 Q680,620 690.5,617" stroke-width="1.3" fill="none"/>
<path d="M714.5,610.0 L710.3,612.2" stroke-width="1.6" fill="none"/>
<path d="M714.5,615.3 L710.3,617.5" stroke-width="1.6" fill="none"/>
<path d="M714.5,620.6 L710.3,622.8" stroke-width="1.6" fill="none"/>
<path d="M714.5,625.9 L710.3,628.1" stroke-width="1.6" fill="none"/>
<path d="M714.5,631.2 L710.3,633.4" stroke-width="1.6" fill="none"/>
<path d="M714.5,636.5 L710.3,638.7" stroke-width="1.6" fill="none"/>
<path d="M714.5,641.8 L710.3,644.0" stroke-width="1.6" fill="none"/>
<path d="M714.4,608.3 V645.8" stroke-width="2.0" fill="none"/>
<polygon points="694.4,617.0 704.4,612.5 704.4,623.5 695.0,627.5" stroke-width="1.3" fill="#fff"/>
<ellipse cx="698.7" cy="621.0" rx="2.6" ry="3.2" stroke-width="1.4" fill="#fff" transform="rotate(20 698.7 621.0)"/>
<polygon points="695.0,640.0 703.6,635.8 703.6,645.8 695.3,649.0" stroke-width="1.3" fill="#fff"/>
<ellipse cx="698.8" cy="643.0" rx="2.4" ry="3.0" stroke-width="1.4" fill="#fff" transform="rotate(20 698.8 643.0)"/>
<line x1="693.5" y1="631.0" x2="693.5" y2="644.0" stroke-width="1.0"/>
<line x1="705.6" y1="625.0" x2="705.6" y2="636.0" stroke-width="1.0"/>
<path d="M679.6,657 Q681.1,700 682.6,806" stroke-width="1.2" fill="none" stroke-dasharray="9,5"/>
<path d="M687.9,657 Q689.4,700 691,806" stroke-width="1.2" fill="none" stroke-dasharray="9,5"/>
<path d="M699.2,657 Q700.7,700 701,806" stroke-width="1.2" fill="none" stroke-dasharray="9,5"/>
<path d="M707.3,657 Q708.8,700 711,806" stroke-width="1.2" fill="none" stroke-dasharray="9,5"/>
<polygon points="678.9,808.0 687.4,807.0 687.9,817.0 679.4,818.0" stroke-width="1.3" fill="#fff"/>
<line x1="679.1" y1="812.0" x2="687.6" y2="811.0" stroke-width="1.0"/>
<ellipse cx="682.4" cy="836.0" rx="6.0" ry="7.5" stroke-width="1.4" fill="#fff" transform="rotate(15 682.4 836.0)"/>
<ellipse cx="682.4" cy="836.0" rx="2.6" ry="3.4" stroke-width="1.2" fill="#fff" transform="rotate(15 682.4 836.0)"/>
<path d="M679.4,818 L677.4,832 M687.9,817 L687.4,830" stroke-width="1.2" fill="none"/>
<polygon points="698.5,801.0 707.0,800.0 707.5,810.0 699.0,811.0" stroke-width="1.3" fill="#fff"/>
<line x1="698.7" y1="805.0" x2="707.2" y2="804.0" stroke-width="1.0"/>
<ellipse cx="702.0" cy="829.0" rx="6.0" ry="7.5" stroke-width="1.4" fill="#fff" transform="rotate(15 702.0 829.0)"/>
<ellipse cx="702.0" cy="829.0" rx="2.6" ry="3.4" stroke-width="1.2" fill="#fff" transform="rotate(15 702.0 829.0)"/>
<path d="M699,811 L697,825 M707.5,810 L707,823" stroke-width="1.2" fill="none"/>
<g id="keysw">
<polygon points="1366.4,157.4 1368.2,154.0 1413.0,161.4 1414.7,163.5 1413.9,168.7 1405.2,175.6 1400.1,175.9 1395.8,173.5 1394.9,170.4 1384.5,167.8 1382.5,164.9 1368.2,160.0" stroke-width="1.3" fill="#fff"/>
<path d="M1368.2,160 L1368.5,161.5 L1382.5,166.5 L1384.5,169.4 L1394.9,172 M1400.1,175.9 L1400.5,177.2 L1405.5,177 L1414,170 L1413.9,168.7" stroke-width="1.1" fill="none"/>
<ellipse cx="1403.5" cy="166.9" rx="2.6" ry="1.8" stroke-width="1.1" fill="#fff" transform="rotate(-20 1403.5 166.9)"/>
<ellipse cx="1400.5" cy="180.0" rx="5.0" ry="2.4" stroke-width="1.2" fill="#fff" transform="rotate(-15 1400.5 180.0)"/>
<polygon points="1388.9,183.3 1403.5,179.9 1409.0,182.1 1407.8,186.8 1400.1,203.2 1396.6,209.2 1391.4,223.0 1387.1,224.2 1384.5,222.1 1386.3,211.8 1388.0,203.2 1388.9,191.1" stroke-width="1.3" fill="#fff"/>
<path d="M1388.9,191.1 L1390.5,191 L1390,203 L1388.5,212 L1387.1,224.2" stroke-width="1.0" fill="none"/>
<path d="M1390,196 L1388.2,199 M1389.5,204 L1387.7,207 M1389,212 L1387.5,214" stroke-width="1.0" fill="none"/>
<ellipse cx="1398.7" cy="188.0" rx="3.0" ry="2.0" stroke-width="1.1" fill="#fff" transform="rotate(-20 1398.7 188.0)"/>
<line x1="1385.4" y1="236.0" x2="1388.0" y2="223.9" stroke-width="1.1"/>
<path d="M1359.5,276.5 L1358.3,299.8 Q1374.2,312 1389.7,301.5 L1394.9,278.2" stroke-width="1.3" fill="#fff"/>
<line x1="1385.4" y1="281.0" x2="1381.1" y2="306.5" stroke-width="1.1"/>
<path d="M1361.3,262 V272 Q1380,285 1399.7,273 V262" stroke-width="1.3" fill="#fff"/>
<path d="M1361.3,272 Q1380,284 1399.7,273" stroke-width="1.1" fill="none"/>
<ellipse cx="1380.5" cy="261.8" rx="19.2" ry="13.5" stroke-width="1.4" fill="#fff"/>
<ellipse cx="1381.5" cy="260.6" rx="14.2" ry="10.2" stroke-width="1.2" fill="#fff"/>
<polygon points="1376.3,262 1385.7,255.8 1387.2,257.6 1377.8,263.8" fill="#fff" stroke-width="1.1"/>
<line x1="1382.3" y1="244.5" x2="1381.5" y2="252.0" stroke-width="1.0"/>
<path d="M1369,306.7 L1358.7,333 M1373,307.6 L1364,334 M1376.8,308.4 L1370.7,333" stroke-width="1.1" fill="none"/>
<path d="M1358.7,334.3 L1351.8,370.5 Q1358,378 1365.2,374 L1372.8,336.9" stroke-width="1.3" fill="#fff"/>
<ellipse cx="1365.7" cy="335.6" rx="7.2" ry="4.2" stroke-width="1.2" fill="#fff" transform="rotate(10 1365.7 335.6)"/>
<path d="M1355.2,375.7 L1353.5,394.7 M1363.8,375.7 L1363,394.7" stroke-width="1.1" fill="none"/>
<polygon points="1343.3,396.8 1347.6,392.3 1367.4,397.2 1368.5,403.5 1367.0,404.1 1344.1,398.1" stroke-width="1.4" fill="#fff"/>
<path d="M1344.1,398.1 Q1356,404.5 1367,404.1" stroke-width="1.2" fill="none"/>
<polygon points="1344.6,399.8 1341.8,408.0 1340.0,409.0 1338.5,413.6 1336.5,415.0 1337.5,418.0 1335.0,420.0 1334.2,423.1 1337.2,427.0 1331.6,443.4 1350.2,448.1 1364.0,450.7 1361.8,440.4 1369.6,417.5 1365.3,414.5 1362.0,412.8 1364.8,404.1" stroke-width="1.4" fill="#fff"/>
<path d="M1340,409 Q1352,415 1356.5,414.3 M1338.5,413.6 Q1350,418 1354,418.5 M1335,423 Q1345,429 1350,429.3" stroke-width="1.2" fill="none"/>
<path d="M1356.5,414.3 L1356.8,419.5 L1350,444 L1350.2,448.1 M1358,416 L1352.3,440 L1354.5,448.6" stroke-width="1.2" fill="none"/>
<path d="M1360,415.5 L1354.5,440 L1358,441 L1364,417.5" stroke-width="1.2" fill="none"/>
<path d="M1362.5,415 L1367,416" stroke-width="1.2" fill="none"/>
</g>
<use href="#keysw" x="-231" y="399"/>
<line x1="1320.2" y1="129.7" x2="1434.1" y2="129.7" stroke-width="1.3" stroke-dasharray="19.2,20.7" stroke-dashoffset="9.8" stroke="#444"/>
<line x1="1320.2" y1="129.7" x2="1320.2" y2="468.3" stroke-width="1.3" stroke-dasharray="19.4,20" stroke-dashoffset="9.5" stroke="#444"/>
<line x1="1434.1" y1="129.7" x2="1434.1" y2="468.3" stroke-width="1.3" stroke-dasharray="19.3,20.1" stroke-dashoffset="5.5" stroke="#444"/>
<line x1="1320.2" y1="468.3" x2="1434.1" y2="468.3" stroke-width="1.3" stroke-dasharray="19.3,20.1" stroke-dashoffset="33.5" stroke="#444"/>
<path d="M1218.4,723.8 Q1210,738 1213.6,746.5 M1219.5,723.8 Q1222,735 1221,747" stroke-width="1.1" fill="none"/>
<polygon points="1201.6,748.7 1213.6,746.3 1230.8,760.2 1229.9,764.0 1231.0,767.0 1229.0,770.0 1222.0,790.0 1220.3,799.0 1210.0,800.0 1199.0,792.0 1198.7,772.7" stroke-width="1.3" fill="#fff"/>
<path d="M1213.6,746.5 L1211,772 L1198.7,772.7 M1211,772 L1223,778 L1229.9,761.2" stroke-width="1.2" fill="none"/>
<path d="M1202.8,778 L1200.5,791 M1207.5,780 L1205,795 M1213.5,782 L1211,797 M1218,783 L1216,798" stroke-width="1.1" fill="none"/>
<rect x="1199.5" y="789.5" width="7" height="4" fill="#fff" stroke-width="1.1" transform="rotate(20 1203 791.5)"/>
<rect x="1208.5" y="793.5" width="7" height="4" fill="#fff" stroke-width="1.1" transform="rotate(20 1212 795.5)"/>
<path d="M1218.4,684.5 L1212.6,718.1 Q1218,725 1227.5,720.9 L1233.2,686.4" stroke-width="1.3" fill="#fff"/>
<ellipse cx="1225.8" cy="685.5" rx="7.4" ry="4.3" stroke-width="1.2" fill="#fff" transform="rotate(10 1225.8 685.5)"/>
<path d="M1224.1,659.6 L1223.1,683 M1226.5,660 L1221,684 M1236.6,662.5 L1229.9,683.5 M1231.5,661 L1231.5,680" stroke-width="1.1" fill="none"/>
<path d="M1221.2,646 L1220.2,660 L1224.5,660.5 L1226,647 M1228,647 L1226,660 M1233,647 L1231,661 L1236,663 L1238,647 M1240,647 L1238.3,661" stroke-width="1.2" fill="none"/>
<polygon points="1221.2,629.9 1218.4,642.3 1227.9,646.2 1250.9,646.2 1251.9,636.6" stroke-width="1.3" fill="#fff"/>
<line x1="1229.9" y1="634.0" x2="1228.5" y2="646.0" stroke-width="1.1"/>
<line x1="1238.5" y1="637.0" x2="1237.5" y2="646.0" stroke-width="1.1"/>
<line x1="1241.0" y1="637.0" x2="1240.0" y2="646.0" stroke-width="1.1"/>
<line x1="1245.0" y1="637.0" x2="1244.0" y2="646.0" stroke-width="1.1"/>
<path d="M1225,601.6 L1218.8,625.1 Q1222,632 1238,635 Q1252,637 1257.2,634.6 L1262.9,610.7" stroke-width="1.3" fill="#fff"/>
<path d="M1218.8,625.1 Q1222,630 1238,633.5 Q1252,636 1257.2,633" stroke-width="1.1" fill="none"/>
<ellipse cx="1244.5" cy="600.5" rx="23.5" ry="7.8" stroke-width="1.3" fill="#fff" transform="rotate(16 1244.5 600.5)"/>
<ellipse cx="1246.5" cy="599.3" rx="18.5" ry="5.6" stroke-width="1.2" fill="#fff" transform="rotate(16 1246.5 599.3)"/>
<path d="M1323.8,558 L1322.8,586 Q1328,607 1359.3,611 Q1386,610 1391,593 L1394,572" stroke-width="1.3" fill="#fff"/>
<ellipse cx="1373.9" cy="610.9" rx="2.2" ry="2.2" stroke-width="1.1" fill="#fff"/>
<ellipse cx="1361.4" cy="554.5" rx="37.6" ry="25.9" stroke-width="1.4" fill="#fff" transform="rotate(-6 1361.4 554.5)"/>
<ellipse cx="1361.6" cy="554.3" rx="33.5" ry="23.2" stroke-width="1.2" fill="#fff" transform="rotate(-6 1361.6 554.3)"/>
<polygon points="1342.2,555.4 1362.9,539.5 1369.6,545.0 1350.1,560.9" stroke-width="1.2" fill="#fff"/>
<polygon points="1356.2,564.5 1376.3,550.5 1380.6,552.9 1360.5,568.2" stroke-width="1.2" fill="#fff"/>
<line x1="1361.2" y1="561.0" x2="1365.5" y2="564.4" stroke-width="1.1"/>
<line x1="1366.2" y1="557.5" x2="1370.5" y2="560.5" stroke-width="1.1"/>
<line x1="1371.3" y1="554.0" x2="1375.6" y2="556.7" stroke-width="1.1"/>
<polygon points="1303.8,752.0 1292.2,792.0 1305.0,796.0 1316.6,790.0 1327.0,752.0" stroke-width="1.3" fill="#fff"/>
<path d="M1296,778 Q1306,786 1318,779 M1294,784 Q1305,791 1316.5,785" stroke-width="1.2" fill="none"/>
<path d="M1300.5,760 L1296,776 M1308,757 L1303,780 M1314,757 L1310,780 M1320,757 L1316,780" stroke-width="1.0" fill="none"/>
<ellipse cx="1315.4" cy="751.0" rx="11.8" ry="4.0" stroke-width="1.2" fill="#fff" transform="rotate(5 1315.4 751.0)"/>
<ellipse cx="1312.5" cy="787.0" rx="2.0" ry="1.5" stroke-width="1.0" fill="#fff"/>
<path d="M1315.4,726.1 L1309.3,748.5 M1320,726.5 L1314.5,748 M1323.9,726.1 L1321.5,748.5" stroke-width="1.1" fill="none"/>
<path d="M1326.3,671.2 L1312.9,721.2 Q1318,727 1326.3,723.7 L1338.5,672.4" stroke-width="1.3" fill="#fff"/>
<path d="M1326.3,656.6 L1326.3,670 Q1332,673 1338.5,672.4 Q1341,662 1345.9,656.6" stroke-width="1.3" fill="#fff"/>
<path d="M1330,658 L1330.5,671 M1334,658 L1334,672 M1338,658 L1337,671" stroke-width="1.0" fill="none"/>
<polygon points="1330.6,624.9 1347.7,621.2 1355.0,627.3 1353.2,651.7 1333.7,655.4 1322.7,648.0 1326.3,635.9 1329.5,635.0" stroke-width="1.3" fill="#fff"/>
<path d="M1326.3,635.9 L1335.5,642 L1353.5,637 M1335.5,642 L1333.7,655.4 M1340,630 L1338,645 M1345,627 L1343,643 M1349.5,625 L1348,641" stroke-width="1.1" fill="none"/>
<path d="M1330.6,624.9 L1338,630.5 L1355,627.3 M1336,623.8 L1343,628.5 M1341.5,622.6 L1348.5,627.3" stroke-width="1.0" fill="none"/>
<path d="M1342,640 L1341.8,650 M1346,639 L1345.8,649" stroke-width="1.0" fill="none"/>
<line x1="1406.1" y1="835.8" x2="1393.1" y2="861.0" stroke-width="1.2"/>
<line x1="1393.1" y1="861.0" x2="1352.4" y2="936.9" stroke-width="1.2" stroke-dasharray="15,12"/>
<path d="M1406.9,820.6 L1402.7,830.9 Q1405,836.5 1409.6,836.1 Q1413,835.5 1414,833.9 L1417.7,825.5" stroke-width="1.3" fill="#fff"/>
<ellipse cx="1416.5" cy="814.4" rx="13.5" ry="10.3" stroke-width="1.4" fill="#fff" transform="rotate(25 1416.5 814.4)"/>
<polygon points="1414.5,809 1416.5,806.5 1420.5,806.8 1422.3,810 1420.5,813.5 1416.5,813.2" fill="#fff" stroke-width="1.1"/>
<line x1="1417.5" y1="808.0" x2="1418.5" y2="812.0" stroke-width="0.9"/>
<polygon points="1009.5,965.4 1314.5,814.1 1317.7,817.6 1318.5,827.1 1321.2,833.9 1325.3,839.3 1329.4,838.0 1334.8,840.7 1424.2,938.2 1425.6,941.0 1398.5,992.5 1394.4,991.1 1357.8,970.8 1071.8,1050.7 1013.6,987.0 1009.5,973.5" stroke-width="1.4" fill="#fff"/>
<line x1="1012.2" y1="968.0" x2="1315.8" y2="817.5" stroke-width="1.1"/>
<path d="M1012.2,967.5 V978.9 L1016.3,987" stroke-width="1.1" fill="none"/>
<line x1="1421.5" y1="941.0" x2="1357.8" y2="970.8" stroke-width="1.2"/>
<line x1="1359.0" y1="973.5" x2="1073.2" y2="1053.0" stroke-width="1.1"/>
<path d="M1071.8,1050.7 L1073.2,1053" stroke-width="1.1" fill="none"/>
<ellipse cx="1231.8" cy="949.9" rx="38.5" ry="30.6" stroke-width="1.3" fill="#fff" transform="rotate(20 1231.8 949.9)"/>
<ellipse cx="1329.4" cy="911.7" rx="19.0" ry="14.9" stroke-width="1.3" fill="#fff" transform="rotate(15 1329.4 911.7)"/>
<rect x="1083.0" y="983.0" width="28" height="19" rx="9.5" fill="#fff" stroke-width="1.3" transform="rotate(32 1097 992.5)"/>
<rect x="1125.1" y="966.7" width="28" height="19" rx="9.5" fill="#fff" stroke-width="1.3" transform="rotate(32 1139.1 976.2)"/>
<ellipse cx="1115.2" cy="928.0" rx="4.0" ry="6.0" stroke-width="1.2" fill="#fff" transform="rotate(15 1115.2 928.0)"/>
<ellipse cx="1264.3" cy="852.9" rx="4.0" ry="6.0" stroke-width="1.2" fill="#fff" transform="rotate(15 1264.3 852.9)"/>
<ellipse cx="1306.3" cy="887.3" rx="4.0" ry="3.3" stroke-width="1.2" fill="#fff"/>
<ellipse cx="1352.4" cy="936.9" rx="4.0" ry="3.3" stroke-width="1.2" fill="#fff"/>
<line x1="1063.7" y1="902.5" x2="1340.0" y2="1043.0" stroke-width="1.2" stroke-dasharray="10,16,18,16"/>
<line x1="1117.0" y1="850.0" x2="1096.2" y2="988.4" stroke-width="1.2" stroke-dasharray="16,12"/>
<line x1="1143.7" y1="977.6" x2="1142.8" y2="976.0" stroke-width="1.2"/>
<line x1="1237.0" y1="942.7" x2="1235.8" y2="943.7" stroke-width="1.2"/>
<line x1="1207.5" y1="794.8" x2="1142.8" y2="976.0" stroke-width="1.2" stroke-dasharray="16,12"/>
<line x1="1301.8" y1="794.8" x2="1237.0" y2="942.7" stroke-width="1.2" stroke-dasharray="16,12"/>
<line x1="1341.6" y1="978.9" x2="1195.8" y2="1240.9" stroke-width="1.2" stroke-dasharray="18,14"/>
<line x1="1063.7" y1="902.5" x2="1486.0" y2="1117.0" stroke-width="1.2" stroke-dasharray="10,16,18,16"/>
<line x1="1194.2" y1="1190.1" x2="1176.0" y2="1229.0" stroke-width="1.2" stroke-dasharray="13,10"/>
<path d="M1184.8,1162.9 L1182.2,1172.8 Q1183,1181 1190,1185 Q1200,1191 1210,1190 Q1217,1188 1220.9,1179.1" stroke-width="1.3" fill="#fff"/>
<ellipse cx="1212.8" cy="1153.5" rx="34.6" ry="22.5" stroke-width="1.3" fill="#fff" transform="rotate(22 1212.8 1153.5)"/>
<ellipse cx="1212.8" cy="1147.7" rx="34.6" ry="22.5" stroke-width="1.3" fill="#fff" transform="rotate(22 1212.8 1147.7)"/>
<ellipse cx="1219.3" cy="1140.3" rx="21.5" ry="14.2" stroke-width="1.3" fill="#fff" transform="rotate(24 1219.3 1140.3)"/>
<line x1="1241.5" y1="1155.5" x2="1233.5" y2="1172.5" stroke-width="1.2"/>
<polygon points="1126.7,1239.4 1103.1,1289.1 1132.9,1325.8 1175.4,1324.7 1198.4,1276.0 1182.2,1256.1 1153.0,1237.0 1140.0,1237.5" stroke-width="1.3" fill="#fff"/>
<path d="M1126.7,1239.4 L1156,1277.6 L1198.4,1276 M1156,1277.6 L1132.9,1325.8" stroke-width="1.3" fill="none"/>
<polygon points="1163.3,1291.2 1167.0,1280.5 1185.3,1279.5 1181.0,1290.0" stroke-width="1.2" fill="#fff"/>
<line x1="1164.0" y1="1289.0" x2="1181.5" y2="1288.2" stroke-width="1.1"/>
<ellipse cx="1120.4" cy="1312.0" rx="2.6" ry="3.4" stroke-width="1.2" fill="#fff"/>
<path d="M1120.4,1308.6 H1131 Q1134,1312 1131,1315.4 H1120.4" stroke-width="1.2" fill="none"/>
<ellipse cx="1148.1" cy="1240.4" rx="2.0" ry="1.4" stroke-width="1.1" fill="#fff"/>
<ellipse cx="1176.4" cy="1275.5" rx="2.0" ry="1.4" stroke-width="1.1" fill="#fff"/>
<path d="M1139,1237.5 V1235.5 L1151,1236.3" stroke-width="1.0" fill="none"/>
<path d="M1163.3,1221 L1148.7,1254.5 Q1152,1264 1165,1267 Q1173,1268 1175.9,1264 L1191.1,1230.5" stroke-width="1.3" fill="#fff"/>
<ellipse cx="1177.2" cy="1225.8" rx="14.3" ry="8.9" stroke-width="1.3" fill="#fff" transform="rotate(22 1177.2 1225.8)"/>
<ellipse cx="1178.5" cy="1225.2" rx="8.5" ry="5.3" stroke-width="1.2" fill="#fff" transform="rotate(22 1178.5 1225.2)"/>
<polygon points="1160.8,1231.0 1167.5,1234.0 1165.2,1239.5 1158.5,1236.5" stroke-width="1.1" fill="#fff"/>
<polygon points="1154.5,1240.0 1160.0,1242.0 1156.5,1250.5 1151.0,1248.5" stroke-width="1.1" fill="#fff"/>
<line x1="1175.9" y1="1264.0" x2="1171.0" y2="1275.0" stroke-width="1.1"/>
<line x1="1187.5" y1="1250.0" x2="1183.0" y2="1260.0" stroke-width="1.1"/>
<ellipse cx="1363.5" cy="1054.3" rx="13.6" ry="17.0" stroke-width="1.4" fill="#fff" transform="rotate(-20 1363.5 1054.3)"/>
<ellipse cx="1366.0" cy="1053.5" rx="11.5" ry="15.0" stroke-width="1.0" fill="#fff" transform="rotate(-20 1366.0 1053.5)"/>
<ellipse cx="1364.8" cy="1054.0" rx="6.4" ry="9.0" stroke-width="1.3" fill="#fff" transform="rotate(-20 1364.8 1054.0)"/>
<ellipse cx="1422.1" cy="1082.9" rx="12.5" ry="15.0" stroke-width="1.4" fill="#fff" transform="rotate(-20 1422.1 1082.9)"/>
<ellipse cx="1424.0" cy="1082.5" rx="10.5" ry="13.3" stroke-width="1.0" fill="#fff" transform="rotate(-20 1424.0 1082.5)"/>
<ellipse cx="1423.0" cy="1083.0" rx="6.5" ry="9.5" stroke-width="1.3" fill="#fff" transform="rotate(-20 1423.0 1083.0)"/>
<line x1="1419.0" y1="1093.0" x2="1421.0" y2="1097.0" stroke-width="1.6"/>
<line x1="1470.0" y1="1108.4" x2="1484.3" y2="1115.3" stroke-width="1.2"/>
<g transform="translate(1488.2,1118.2) rotate(26.3)">
<path d="M0,-7.4 L28,-7.4 L28,7.4 L0,7.4 A5.03,7.4 0 0 1 0,-7.4 Z" fill="#fff" stroke-width="1.3"/>
<path d="M28,-10.5 L45,-10.5 L45,10.5 L28,10.5 A7.14,10.5 0 0 1 28,-10.5 Z" fill="#fff" stroke-width="1.3"/>
<ellipse cx="45" cy="0" rx="7.14" ry="10.5" fill="#fff" stroke-width="1.5"/>
<ellipse cx="45.6" cy="0" rx="5.71" ry="8.40" fill="#fff" stroke-width="1.2"/>
<polygon points="49.01,1.55 46.39,5.12 42.98,3.57 42.19,-1.55 44.81,-5.12 48.22,-3.57" fill="#fff" stroke-width="1.2"/>
<line x1="43.46" y1="-1.57" x2="44.89" y2="4.20" stroke-width="1.0"/>
</g>
<line x1="211.3" y1="1222.0" x2="575.9" y2="1039.3" stroke-width="1.15" stroke-dasharray="8,6.5"/>
<path d="M575.9,1039.3 V1032 Q577,1025.5 584.6,1025.5 Q588,1025.6 592,1028.3" stroke-width="1.15" fill="none"/>
<line x1="219.0" y1="1226.5" x2="598.1" y2="1035.0" stroke-width="1.15" stroke-dasharray="8,6.5"/>
<path d="M592,1028.3 L714.7,1104.8" stroke-width="1.15" fill="none" stroke-dasharray="7.5,5.5"/>
<path d="M590,1030.9 L713.5,1107" stroke-width="1.15" fill="none" stroke-dasharray="7.5,5.5"/>
<path d="M190.5,1232 Q190.5,1218.3 199.2,1218.8 L205,1221.9" stroke-width="1.15" fill="none"/>
<path d="M207,1222.9 L268.6,1255.3 L328.6,1301.5" stroke-width="1.15" fill="none" stroke-dasharray="7.5,5.5"/>
<path d="M200.8,1221.7 L267.5,1257.9 L327,1303.6" stroke-width="1.15" fill="none" stroke-dasharray="7.5,5.5"/>
<line x1="329.9" y1="1297.2" x2="689.7" y2="1119.7" stroke-width="1.15" stroke-dasharray="7.5,5.5"/>
<line x1="329.9" y1="1299.6" x2="689.7" y2="1122.1" stroke-width="1.15" stroke-dasharray="7.5,5.5"/>
<line x1="331.5" y1="1321.8" x2="689.7" y2="1143.1" stroke-width="1.15" stroke-dasharray="8,6.5"/>
<line x1="190.5" y1="1236.0" x2="190.5" y2="1688.0" stroke-width="1.15" stroke-dasharray="8,6.5"/>
<line x1="171.5" y1="1291.0" x2="171.5" y2="1641.0" stroke-width="1.15" stroke-dasharray="8,6.5"/>
<line x1="171.5" y1="1641.0" x2="191.5" y2="1688.0" stroke-width="1.15" stroke-dasharray="8,6.5"/>
<line x1="330.5" y1="1300.0" x2="330.5" y2="1576.0" stroke-width="1.15" stroke-dasharray="7.5,5.5"/>
<line x1="332.9" y1="1300.0" x2="332.9" y2="1576.0" stroke-width="1.15" stroke-dasharray="7.5,5.5"/>
<line x1="265.8" y1="1202.0" x2="265.8" y2="1253.4" stroke-width="1.15" stroke-dasharray="7.5,5.5"/>
<line x1="268.6" y1="1202.0" x2="268.6" y2="1253.4" stroke-width="1.15" stroke-dasharray="7.5,5.5"/>
<line x1="549.2" y1="1059.2" x2="549.2" y2="1120.0" stroke-width="1.15" stroke-dasharray="8,6.5"/>
<line x1="551.8" y1="1059.2" x2="551.8" y2="1175.5" stroke-width="1.15" stroke-dasharray="8,6.5"/>
<line x1="543.5" y1="1124.0" x2="543.5" y2="1143.4" stroke-width="1.15" stroke-dasharray="8,6.5"/>
<path d="M543.1,1055.7 L545.5,1055 L549.2,1058.5 L551.8,1058.5" stroke-width="1.15" fill="none"/>
<line x1="600.1" y1="1035.9" x2="600.1" y2="1080.0" stroke-width="1.15" stroke-dasharray="8,6.5"/>
<line x1="600.6" y1="1080.7" x2="600.6" y2="1163.0" stroke-width="1.15" stroke-dasharray="7.5,5.5"/>
<line x1="604.0" y1="1080.7" x2="604.0" y2="1163.0" stroke-width="1.15" stroke-dasharray="7.5,5.5"/>
<path d="M603.8,1081.5 Q604.5,1079 607,1080" stroke-width="1.15" fill="none"/>
<line x1="689.6" y1="1142.2" x2="689.6" y2="1460.6" stroke-width="1.15" stroke-dasharray="8,6.5"/>
<line x1="715.9" y1="1140.3" x2="715.9" y2="1442.0" stroke-width="1.15" stroke-dasharray="7.5,5.5"/>
<line x1="718.5" y1="1140.3" x2="718.5" y2="1442.0" stroke-width="1.15" stroke-dasharray="7.5,5.5"/>
<path d="M715.5,1111 V1124.5 M718.4,1111 V1124 M715.5,1116 H718.4 M715.8,1124.5 Q722,1128 723.6,1133.4 Q723.5,1137 718.6,1139.5" stroke-width="1.2" fill="none"/>
<line x1="716.2" y1="1442.0" x2="716.2" y2="1471.0" stroke-width="1.15" stroke-dasharray="8,6.5"/>
<line x1="273.2" y1="1257.1" x2="544.0" y2="1125.0" stroke-width="1.15" stroke-dasharray="8,6.5"/>
<line x1="603.1" y1="1079.9" x2="686.3" y2="1119.8" stroke-width="1.15" stroke-dasharray="8,6.5"/>
<line x1="333.3" y1="1565.9" x2="461.8" y2="1501.8" stroke-width="1.15" stroke-dasharray="8,6.5"/>
<line x1="461.8" y1="1502.8" x2="584.0" y2="1563.9" stroke-width="1.15" stroke-dasharray="7.5,5.5"/>
<line x1="461.8" y1="1505.2" x2="584.0" y2="1566.3" stroke-width="1.15" stroke-dasharray="7.5,5.5"/>
<path d="M331.7,1576.7 L398.7,1609.3 Q452,1630 510,1604 L584,1566" stroke-width="1.15" fill="none" stroke-dasharray="7.5,5.5"/>
<path d="M331.7,1579.1 L398.3,1611.7 Q452,1632.6 511.5,1606.2 L585.5,1568.4" stroke-width="1.15" fill="none" stroke-dasharray="7.5,5.5"/>
<ellipse cx="453.5" cy="1576.7" rx="69.0" ry="34.5" stroke-width="1.15" fill="none" stroke-dasharray="8,6"/>
<ellipse cx="453.5" cy="1579.7" rx="65.0" ry="30.6" stroke-width="1.15" fill="none" stroke-dasharray="8,6"/>
<line x1="585.1" y1="1515.3" x2="585.1" y2="1563.4" stroke-width="1.15" stroke-dasharray="8,6.5"/>
<line x1="585.1" y1="1515.3" x2="692.0" y2="1460.6" stroke-width="1.15" stroke-dasharray="8,6.5"/>
<line x1="585.1" y1="1515.3" x2="690.1" y2="1563.4" stroke-width="1.15" stroke-dasharray="7.5,5.5"/>
<line x1="585.1" y1="1517.7" x2="690.1" y2="1565.8" stroke-width="1.15" stroke-dasharray="7.5,5.5"/>
<line x1="692.0" y1="1460.6" x2="716.0" y2="1471.0" stroke-width="1.15" stroke-dasharray="8,6.5"/>
<path d="M585.1,1563.4 Q600,1552 616.2,1550.8 Q622,1552 629.5,1557.4 L650.2,1572.2 Q656,1578 663.5,1578.2 L688.6,1564.8" stroke-width="1.15" fill="none" stroke-dasharray="8,6"/>
<path d="M688.6,1564.8 L774.4,1513.1 Q786,1506 788,1498 Q788,1488 780,1478 L716.7,1442.1" stroke-width="1.15" fill="none" stroke-dasharray="7.5,5.5"/>
<path d="M689.8,1567.2 L775.8,1515.3 Q789,1507.5 790.4,1498 Q790.4,1487 781.6,1476 L717.7,1444.2" stroke-width="1.15" fill="none" stroke-dasharray="7.5,5.5"/>
<ellipse cx="713.8" cy="1521.2" rx="32.5" ry="16.3" stroke-width="1.15" fill="none" stroke-dasharray="8,6"/>
<ellipse cx="713.8" cy="1523.0" rx="29.5" ry="13.8" stroke-width="1.15" fill="none" stroke-dasharray="8,6"/>
<path d="M789.7,1491 V1624 Q789,1638 776,1648 L522.8,1788.7 Q452,1818 384.8,1790.7 L199.4,1700 Q192,1695 191.5,1688" stroke-width="1.15" fill="none" stroke-dasharray="8,6.5"/>
<ellipse cx="413.7" cy="1160.4" rx="4.0" ry="6.0" stroke-width="1.1" fill="none"/>
<ellipse cx="501.1" cy="1249.8" rx="3.0" ry="3.8" stroke-width="1.1" fill="none"/>
<ellipse cx="556.1" cy="1246.6" rx="2.2" ry="2.6" stroke-width="1.1" fill="none"/>
<ellipse cx="586.7" cy="1179.4" rx="2.0" ry="2.0" stroke-width="1.1" fill="none"/>
<ellipse cx="654.7" cy="1143.9" rx="2.0" ry="2.4" stroke-width="1.1" fill="none"/>
<ellipse cx="651.0" cy="1168.5" rx="2.0" ry="2.4" stroke-width="1.1" fill="none"/>
<ellipse cx="518.4" cy="1266.4" rx="2.0" ry="2.0" stroke-width="1.1" fill="none"/>
<ellipse cx="615.0" cy="1289.8" rx="2.0" ry="2.4" stroke-width="1.1" fill="none"/>
<ellipse cx="443.7" cy="1306.5" rx="2.0" ry="2.4" stroke-width="1.1" fill="none"/>
<ellipse cx="392.0" cy="1312.0" rx="2.0" ry="2.4" stroke-width="1.1" fill="none"/>
<ellipse cx="210.6" cy="1237.0" rx="2.0" ry="2.4" stroke-width="1.1" fill="none"/>
<ellipse cx="232.6" cy="1248.0" rx="2.0" ry="2.4" stroke-width="1.1" fill="none"/>
<ellipse cx="308.5" cy="1306.0" rx="2.0" ry="2.4" stroke-width="1.1" fill="none"/>
<ellipse cx="468.7" cy="1468.3" rx="2.0" ry="2.6" stroke-width="1.1" fill="none"/>
<ellipse cx="506.6" cy="1479.1" rx="2.0" ry="2.6" stroke-width="1.1" fill="none"/>
<ellipse cx="534.8" cy="1435.8" rx="2.0" ry="2.0" stroke-width="1.1" fill="none"/>
<ellipse cx="437.2" cy="1536.3" rx="3.8" ry="2.2" stroke-width="1.1" fill="none"/>
<ellipse cx="458.9" cy="1535.3" rx="3.8" ry="2.2" stroke-width="1.1" fill="none"/>
<ellipse cx="531.8" cy="1589.2" rx="3.8" ry="2.2" stroke-width="1.1" fill="none"/>
<ellipse cx="522.9" cy="1598.4" rx="3.8" ry="2.2" stroke-width="1.1" fill="none"/>
<ellipse cx="714.5" cy="1501.3" rx="3.8" ry="2.2" stroke-width="1.1" fill="none"/>
<ellipse cx="673.9" cy="1521.2" rx="3.8" ry="2.2" stroke-width="1.1" fill="none"/>
<ellipse cx="754.9" cy="1521.2" rx="3.8" ry="2.2" stroke-width="1.1" fill="none"/>
<ellipse cx="714.5" cy="1541.2" rx="3.8" ry="2.2" stroke-width="1.1" fill="none"/>
<ellipse cx="690.0" cy="1065.0" rx="2.0" ry="2.2" stroke-width="1.1" fill="none"/>
<ellipse cx="702.0" cy="1074.0" rx="2.0" ry="2.2" stroke-width="1.1" fill="none"/>
<ellipse cx="660.0" cy="1151.0" rx="2.0" ry="2.2" stroke-width="1.1" fill="none"/>
<ellipse cx="686.0" cy="1207.0" rx="2.0" ry="2.2" stroke-width="1.1" fill="none"/>
<ellipse cx="182.0" cy="1502.0" rx="1.6" ry="2.6" stroke-width="1.1" fill="none"/>
<ellipse cx="524.7" cy="1156.0" rx="18.5" ry="9.2" stroke-width="1.1" fill="none" stroke-dasharray="6,4"/>
<ellipse cx="524.7" cy="1155.7" rx="13.0" ry="6.2" stroke-width="1.1" fill="none" stroke-dasharray="9,4"/>
<path d="M506.2,1158 V1171 Q510,1180 524.7,1181 Q540,1180 543.2,1171 V1165" stroke-width="1.15" fill="none" stroke-dasharray="9,4"/>
<path d="M495.4,1158.2 L506.5,1153.3 M495.4,1158.2 V1171.1 H498.5 M497.4,1164.4 H502 Q505,1162 504,1159 M498.5,1171.1 V1183.5 L507.7,1188.4 L527,1199 M520,1183 Q526,1185 532,1182 Q538,1180 547,1185" stroke-width="1.1" fill="none"/>
<path d="M506.5,1153.3 V1141.5 M507,1141.5 L510,1140.3" stroke-width="1.1" fill="none"/>
<path d="M492.3,1218.6 Q492.5,1205 500.3,1195.2" stroke-width="1.15" fill="none" stroke-dasharray="5,3"/>
<path d="M529.7,1177.5 L543.2,1175 L556,1170" stroke-width="1.1" fill="none"/>
<path d="M563.2,1167.8 L569,1164.8 L568.5,1175.5 L578,1171" stroke-width="1.1" fill="none"/>
<path d="M529.9,1129.5 L543.5,1133 L543.5,1124 L548.5,1120" stroke-width="1.1" fill="none"/>
<path d="M737.5,1458 L744,1461 V1476 L737.5,1473 Z M746,1462 Q750,1470 746,1480 M752,1467 Q758,1475 752,1486 M742,1476 L744,1484 L752,1488 M754,1482 L762,1486 V1491" stroke-width="1.1" fill="none"/>
<path d="M686.4,1430 L692,1428.8 V1441 M686.4,1430 V1455 L692,1452" stroke-width="1.1" fill="none"/>
<path d="M333.7,1483 Q339,1484 339,1490 Q339,1495 334,1494 M334,1498 Q339,1499 339,1506 L334,1507" stroke-width="1.1" fill="none"/>
<path d="M353,1582 Q355,1577 360,1579 L362,1587 M364,1583 Q367,1580 370,1583 L371,1590 M373,1589 Q378,1587 382,1592 M387,1597 Q391,1594 395,1599" stroke-width="1.1" fill="none"/>
<path d="M655,1572 Q657,1566 662,1568 M664,1565 L670,1562 L672,1567" stroke-width="1.1" fill="none"/>
<path d="M172,1290 L185.6,1289 V1296 M176,1300 L173,1305 M181,1311 L178,1318 L181,1322" stroke-width="1.1" fill="none"/>
<path d="M714,1243 L718,1241 L722,1251 L718,1253 Z M717,1246 Q723,1252 719,1262 L724,1268 M711,1254 V1262" stroke-width="1.1" fill="none"/>
<path d="M699.4,1131.4 Q708,1135 709.5,1142 Q709,1145.5 701,1145.5 M700.5,1134 Q706.5,1137.5 707.5,1142 M701,1141 L699,1143 M701.5,1115.5 L705.5,1113 L710,1118.5" stroke-width="1.1" fill="none"/>
<ellipse cx="703.9" cy="1128.0" rx="2.6" ry="1.8" stroke-width="1.8" fill="#000"/>
<ellipse cx="694.0" cy="1114.1" rx="1.6" ry="1.8" stroke-width="1.1" fill="#fff"/>
<path d="M681.2,1116.6 L685.5,1118.5 L688,1117 L692,1120.5 M689,1122 L695,1127.5 M688,1124 L693.5,1129.5" stroke-width="1.1" fill="none"/>
<path d="M628,1161 Q626,1176 640,1180 L650,1178" stroke-width="1.1" fill="none" stroke-dasharray="8,4"/>
<line x1="133.0" y1="1067.5" x2="160.7" y2="1080.5" stroke-width="1.2"/>
<g transform="translate(81.5,1042.5) rotate(26.8)">
<path d="M0,-12.2 L13,-12.2 L13,12.2 L0,12.2 A8.30,12.2 0 0 1 0,-12.2 Z" fill="#fff" stroke-width="1.3"/>
<ellipse cx="13" cy="0" rx="8.30" ry="12.2" fill="#fff" stroke-width="1.4000000000000001"/>
<path d="M13,-8 L47,-8 L47,8 L13,8 A5.44,8 0 0 1 13,-8 Z" fill="#fff" stroke-width="1.3"/>
<ellipse cx="47" cy="0" rx="5.44" ry="8" fill="#fff" stroke-width="1.5"/>
<ellipse cx="47.5" cy="0" rx="3.81" ry="5.76" fill="#fff" stroke-width="1.2"/>
</g>
<line x1="182.0" y1="1090.6" x2="216.2" y2="1107.3" stroke-width="1.3"/>
<ellipse cx="183.8" cy="1092.0" rx="10.7" ry="13.3" stroke-width="1.4" fill="#fff" transform="rotate(-20 183.8 1092.0)"/>
<ellipse cx="185.3" cy="1091.6" rx="9.0" ry="11.8" stroke-width="1.0" fill="none" transform="rotate(-20 185.3 1091.6)"/>
<ellipse cx="184.6" cy="1092.0" rx="5.2" ry="7.4" stroke-width="1.3" fill="none" transform="rotate(-20 184.6 1092.0)"/>
<line x1="184.6" y1="1092.0" x2="200.0" y2="1099.6" stroke-width="1.3"/>
<polygon points="195.0,1114.7 266.1,1080.5 266.8,1083.0 264.3,1134.0 255.0,1174.8 185.7,1209.0 195.9,1147.0" stroke-width="1.3" fill="#fff"/>
<line x1="195.8" y1="1117.5" x2="266.5" y2="1083.0" stroke-width="1.1"/>
<path d="M197.5,1116.5 V1147 L188,1208" stroke-width="1.1" fill="none"/>
<ellipse cx="230.0" cy="1115.6" rx="3.3" ry="5.9" stroke-width="1.3" fill="none" transform="rotate(10 230.0 1115.6)"/>
<line x1="233.5" y1="1117.8" x2="251.3" y2="1124.8" stroke-width="1.2"/>
<line x1="268.0" y1="1133.5" x2="500.0" y2="1249.5" stroke-width="1.2" stroke-dasharray="18,16"/>
<line x1="518.4" y1="1266.4" x2="596.0" y2="1305.8" stroke-width="1.2" stroke-dasharray="12,14,20,12"/>
<line x1="586.7" y1="1179.4" x2="651.5" y2="1209.7" stroke-width="1.2" stroke-dasharray="16,16,22,100"/>
<line x1="534.8" y1="1435.8" x2="609.5" y2="1473.2" stroke-width="1.2" stroke-dasharray="8,14,22,12"/>
<polygon points="608.1,1819.3 718.1,1763.3 741.2,1777.7 741.2,2170.0 571.8,2232.6 564.7,2229.5 564.7,1911.7 603.5,1893.3 608.1,1886.8" stroke-width="1.4" fill="#fff"/>
<path d="M613.7,1821.5 V1888 Q613,1894 606,1897 L571.2,1913.5 V2232" stroke-width="1.1" fill="none"/>
<line x1="613.7" y1="1821.5" x2="720.0" y2="1767.5" stroke-width="1.1"/>
<ellipse cx="624.2" cy="1827.3" rx="3.3" ry="3.3" stroke-width="1.2" fill="#fff"/>
<ellipse cx="581.7" cy="1964.8" rx="1.8" ry="1.8" stroke-width="1.1" fill="#fff"/>
<ellipse cx="581.9" cy="2214.0" rx="3.0" ry="3.8" stroke-width="1.2" fill="#fff" transform="rotate(15 581.9 2214.0)"/>
<polygon points="577.0,1997.8 676.3,1955.4 700.0,1955.0 700.0,2190.0 604.4,2190.4 588.1,2198.5 577.0,2194.0" stroke-width="1.4" fill="#fff"/>
<line x1="588.1" y1="2001.0" x2="588.1" y2="2198.5" stroke-width="1.1"/>
<line x1="577.0" y1="1997.8" x2="588.1" y2="2002.0" stroke-width="1.1"/>
<ellipse cx="594.8" cy="2007.7" rx="4.3" ry="4.3" stroke-width="1.3" fill="#fff"/>
<ellipse cx="594.8" cy="2187.4" rx="4.3" ry="4.3" stroke-width="1.3" fill="#fff"/>
<path d="M596,2034 L605,2018 L611.6,1997 L677.8,1966.2 M600,2034 V2176 L606,2186 L648.7,2205.9" stroke-width="1.4" fill="none"/>
<line x1="611.6" y1="1999.0" x2="677.8" y2="1968.5" stroke-width="2.2"/>
<polygon points="599.9,2055.0 633.9,2070.0 633.9,2176.3 599.9,2170.0" stroke-width="1.4" fill="#fff"/>
<polygon points="602.5,2059.0 631.5,2072.0 631.5,2172.0 602.5,2167.0" stroke-width="1.0" fill="#fff"/>
<line x1="600.0" y1="2040.0" x2="640.6" y2="2061.0" stroke-width="1.2"/>
<line x1="600.0" y1="2048.0" x2="640.6" y2="2068.0" stroke-width="1.1"/>
<ellipse cx="604.4" cy="2028.4" rx="4.0" ry="4.0" stroke-width="1.2" fill="#000"/>
<ellipse cx="604.4" cy="2028.4" rx="1.8" ry="1.8" stroke-width="0.8" fill="#fff"/>
<ellipse cx="605.8" cy="2177.8" rx="4.0" ry="4.0" stroke-width="1.2" fill="#000"/>
<polygon points="640.6,2061.0 648.0,2052.0 654.7,2021.7 694.8,2001.0 773.4,1960.0 783.0,1965.0 790.7,1975.0 790.7,2108.3 783.3,2115.7 781.8,2123.0 774.4,2130.5 777.4,2137.9 774.4,2145.3 747.8,2157.1 743.4,2163.0 734.5,2166.0 700.0,2182.0 690.0,2200.0 660.0,2207.0 648.7,2205.9 640.6,2190.0" stroke-width="1.4" fill="#fff"/>
<line x1="640.6" y1="2061.0" x2="648.7" y2="2066.0" stroke-width="1.1"/>
<line x1="648.7" y1="2066.0" x2="648.7" y2="2200.0" stroke-width="1.1"/>
<path d="M654.7,2021.7 Q650,2020 645,2025 L640.6,2061" stroke-width="1.2" fill="none"/>
<line x1="694.8" y1="2005.0" x2="773.4" y2="1966.0" stroke-width="1.1"/>
<line x1="758.1" y1="2001.8" x2="758.1" y2="2126.0" stroke-width="1.0"/>
<polygon points="645.0,2132.0 753.7,2080.2 752.2,2108.3 645.8,2161.5" stroke-width="1.3" fill="#fff"/>
<path d="M662,2149.7 L738.9,2127.5 Q742,2130 741.9,2140 L741.9,2163 L663.5,2189.6 Q660,2185 660,2175 Z" fill="#fff" stroke-width="1.5"/>
<path d="M667,2155 L735,2134 L735,2158 L668,2182 Z" fill="#fff" stroke-width="1.3"/>
<path d="M668,2163 L712,2148 M668,2168 L712,2153 M668,2173 L712,2158 M668,2178 L712,2163" stroke-width="2.2" fill="none" stroke="#333"/>
<ellipse cx="653.2" cy="2111.3" rx="9.0" ry="12.5" stroke-width="1.2" fill="none"/>
<ellipse cx="774.4" cy="2083.2" rx="9.0" ry="12.5" stroke-width="1.2" fill="none"/>
<ellipse cx="767.8" cy="2132.7" rx="9.0" ry="12.0" stroke-width="2.6" fill="none"/>
<ellipse cx="767.8" cy="2132.7" rx="6.5" ry="9.0" stroke-width="1.2" fill="none"/>
<ellipse cx="745.6" cy="2066.9" rx="8.0" ry="11.5" stroke-width="2.6" fill="none"/>
<ellipse cx="745.6" cy="2066.9" rx="5.5" ry="8.5" stroke-width="1.2" fill="none"/>
<path d="M662.2,2072.7 V2060.7 Q662.2,2056.7 667.2,2055.7 L673.2,2054.7 Q677.2,2056.7 677.2,2062.7 V2072.7" fill="#fff" stroke-width="2.2"/>
<line x1="666.2" y1="2058.7" x2="666.2" y2="2070.7" stroke-width="1.6"/>
<line x1="671.2" y1="2057.7" x2="671.2" y2="2069.7" stroke-width="1.0"/>
<ellipse cx="669.2" cy="2079.7" rx="11.0" ry="12.0" stroke-width="2.8" fill="#fff"/>
<ellipse cx="669.2" cy="2079.7" rx="8.5" ry="9.5" stroke-width="1.4" fill="#fff"/>
<polygon points="667.2,2071.7 674.2,2071.7 678.2,2078.7 674.2,2085.7 667.2,2085.7 664.2,2078.7" fill="#fff" stroke-width="1.5"/>
<ellipse cx="673.2" cy="2078.7" rx="5.5" ry="7.0" stroke-width="1.3" fill="#fff"/>
<path d="M689.5,2059.4 V2047.4 Q689.5,2043.4 694.5,2042.4 L700.5,2041.4 Q704.5,2043.4 704.5,2049.4 V2059.4" fill="#fff" stroke-width="2.2"/>
<line x1="693.5" y1="2045.4" x2="693.5" y2="2057.4" stroke-width="1.6"/>
<line x1="698.5" y1="2044.4" x2="698.5" y2="2056.4" stroke-width="1.0"/>
<ellipse cx="696.5" cy="2066.4" rx="11.0" ry="12.0" stroke-width="2.8" fill="#fff"/>
<ellipse cx="696.5" cy="2066.4" rx="8.5" ry="9.5" stroke-width="1.4" fill="#fff"/>
<polygon points="694.5,2058.4 701.5,2058.4 705.5,2065.4 701.5,2072.4 694.5,2072.4 691.5,2065.4" fill="#fff" stroke-width="1.5"/>
<ellipse cx="700.5" cy="2065.4" rx="5.5" ry="7.0" stroke-width="1.3" fill="#fff"/>
<path d="M716.9,2046.8000000000002 V2034.8000000000002 Q716.9,2030.8000000000002 721.9,2029.8000000000002 L727.9,2028.8000000000002 Q731.9,2030.8000000000002 731.9,2036.8000000000002 V2046.8000000000002" fill="#fff" stroke-width="2.2"/>
<line x1="720.9" y1="2032.8" x2="720.9" y2="2044.8" stroke-width="1.6"/>
<line x1="725.9" y1="2031.8" x2="725.9" y2="2043.8" stroke-width="1.0"/>
<ellipse cx="723.9" cy="2053.8" rx="11.0" ry="12.0" stroke-width="2.8" fill="#fff"/>
<ellipse cx="723.9" cy="2053.8" rx="8.5" ry="9.5" stroke-width="1.4" fill="#fff"/>
<polygon points="721.9,2045.8000000000002 728.9,2045.8000000000002 732.9,2052.8 728.9,2059.8 721.9,2059.8 718.9,2052.8" fill="#fff" stroke-width="1.5"/>
<ellipse cx="727.9" cy="2052.8" rx="5.5" ry="7.0" stroke-width="1.3" fill="#fff"/>
<path d="M750.1,2032.1 V2020.1 Q750.1,2016.1 755.1,2015.1 L761.1,2014.1 Q765.1,2016.1 765.1,2022.1 V2032.1" fill="#fff" stroke-width="2.2"/>
<line x1="754.1" y1="2018.1" x2="754.1" y2="2030.1" stroke-width="1.6"/>
<line x1="759.1" y1="2017.1" x2="759.1" y2="2029.1" stroke-width="1.0"/>
<ellipse cx="757.1" cy="2039.1" rx="11.0" ry="12.0" stroke-width="2.8" fill="#fff"/>
<ellipse cx="757.1" cy="2039.1" rx="8.5" ry="9.5" stroke-width="1.4" fill="#fff"/>
<polygon points="755.1,2031.1 762.1,2031.1 766.1,2038.1 762.1,2045.1 755.1,2045.1 752.1,2038.1" fill="#fff" stroke-width="1.5"/>
<ellipse cx="761.1" cy="2038.1" rx="5.5" ry="7.0" stroke-width="1.3" fill="#fff"/>
<ellipse cx="684.7" cy="2099.7" rx="11.0" ry="12.0" stroke-width="2.8" fill="#fff"/>
<ellipse cx="684.7" cy="2099.7" rx="8.5" ry="9.5" stroke-width="1.4" fill="#fff"/>
<polygon points="682.7,2091.7 689.7,2091.7 693.7,2098.7 689.7,2105.7 682.7,2105.7 679.7,2098.7" fill="#fff" stroke-width="1.5"/>
<ellipse cx="688.7" cy="2098.7" rx="5.5" ry="7.0" stroke-width="1.3" fill="#fff"/>
<ellipse cx="709.0" cy="2086.1" rx="11.0" ry="12.0" stroke-width="2.8" fill="#fff"/>
<ellipse cx="709.0" cy="2086.1" rx="7.0" ry="8.0" stroke-width="1.3" fill="#fff"/>
<ellipse cx="710.0" cy="2086.0" rx="3.0" ry="3.0" stroke-width="1.2" fill="#fff"/>
<rect x="657" y="2096" width="10" height="14" rx="3" fill="#fff" stroke-width="1.5" transform="rotate(-20 662 2103)"/>
<path d="M651,2117 Q652,2105 660,2101" stroke-width="1.1" fill="none"/>
<polygon points="677.8,1950.8 694.8,1949.3 694.8,2035.5 677.8,2035.5" stroke-width="1.3" fill="#fff"/>
<path d="M677.8,1950.8 Q676,1990 677.8,2035.5" stroke-width="1.1" fill="none"/>
<polygon points="684,2019 692,2019 696,2025 692,2031 684,2031 681,2025" fill="#fff" stroke-width="1.3"/>
<ellipse cx="690.5" cy="2024.7" rx="5.5" ry="6.0" stroke-width="1.2" fill="#fff"/>
<rect x="655" y="2030" width="14" height="9" rx="3" fill="#fff" stroke-width="1.3" transform="rotate(-25 662 2034)"/>
<rect x="658" y="2032" width="7" height="5" fill="#333" stroke="none" transform="rotate(-25 662 2034)"/>
<polygon points="635.9,1856.3 647.9,1842.4 695.9,1817.5 720.0,1813.8 732.9,1820.2 732.9,1830.0 650.0,1872.0 649.7,1892.3 635.9,1886.8" stroke-width="1.3" fill="#fff"/>
<line x1="647.9" y1="1858.5" x2="732.9" y2="1822.5" stroke-width="1.1"/>
<line x1="635.9" y1="1856.3" x2="649.7" y2="1862.0" stroke-width="1.2"/>
<line x1="649.7" y1="1862.0" x2="649.7" y2="1892.3" stroke-width="1.2"/>
<polygon points="672.0,1852.0 715.0,1833.0 715.0,1860.0 672.0,1880.0" stroke-width="1.2" fill="#fff"/>
<line x1="676.0" y1="1852.0" x2="676.0" y2="1878.0" stroke-width="1.0"/>
<ellipse cx="731.0" cy="1842.4" rx="8.0" ry="9.0" stroke-width="1.5" fill="#fff"/>
<polygon points="726,1836 734,1836 738,1842 734,1849 726,1849 723,1842" fill="#fff" stroke-width="1.3"/>
<polygon points="732.0,1837.5 748.0,1845.0 750.0,1856.0 734.0,1848.0" stroke-width="1.3" fill="#fff"/>
<ellipse cx="749.5" cy="1850.7" rx="4.2" ry="5.2" stroke-width="1.3" fill="#fff"/>
<rect x="652" y="1862" width="22" height="28" fill="#fff" stroke-width="1.5" transform="rotate(-8 663 1876)"/>
<ellipse cx="664.5" cy="1877.5" rx="7.5" ry="8.5" stroke-width="1.5" fill="#fff"/>
<polygon points="665.0,1872.0 682.0,1880.5 683.0,1890.0 666.0,1883.0" stroke-width="1.3" fill="#fff"/>
<ellipse cx="682.1" cy="1885.9" rx="4.6" ry="5.6" stroke-width="1.3" fill="#fff"/>
<path d="M653,1888 Q650,1910 657,1924 M672,1888 Q676,1910 670,1926" stroke-width="1.2" fill="none"/>
<path d="M653,1888 Q662,1884 672,1888" stroke-width="1.1" fill="none"/>
<polygon points="673.8,1907.1 706.1,1892.3 733.8,1907.1 703.3,1922.8" stroke-width="1.3" fill="#fff"/>
<polygon points="703.3,1922.8 733.8,1907.1 733.8,1958.9 703.3,1971.8" stroke-width="1.3" fill="#fff"/>
<polygon points="673.8,1907.1 703.3,1922.8 703.3,1971.8 680.0,1958.0" stroke-width="1.3" fill="#fff"/>
<polygon points="733.8,1907.1 769.9,1890.5 769.9,1927.5 733.8,1942.2" stroke-width="1.3" fill="#fff"/>
<ellipse cx="738.8" cy="1914.5" rx="1.8" ry="2.2" stroke-width="1.0" fill="#fff"/>
<ellipse cx="751.5" cy="1908.0" rx="1.8" ry="2.2" stroke-width="1.0" fill="#fff"/>
<ellipse cx="738.8" cy="1935.0" rx="1.8" ry="2.2" stroke-width="1.0" fill="#fff"/>
<ellipse cx="751.5" cy="1929.0" rx="1.8" ry="2.2" stroke-width="1.0" fill="#fff"/>
<polygon points="698.0,1880.0 708.0,1875.0 712.0,1878.0 702.0,1883.0" stroke-width="1.2" fill="#fff"/>
<polygon points="723.0,1897.0 733.0,1892.0 737.0,1895.0 727.0,1900.0" stroke-width="1.2" fill="#fff"/>
<polygon points="741.0,1884.0 751.0,1879.0 755.0,1882.0 745.0,1887.0" stroke-width="1.2" fill="#fff"/>
<path d="M706.1,1892.3 L744,1873 L769.9,1890.5" stroke-width="1.1" fill="none"/>
<ellipse cx="642.3" cy="1934.8" rx="9.0" ry="9.5" stroke-width="1.5" fill="#fff"/>
<polygon points="637,1929 645,1929 649,1935 645,1941 637,1941 634,1935" fill="#fff" stroke-width="1.3"/>
<ellipse cx="640.0" cy="1935.0" rx="3.2" ry="3.8" stroke-width="1.2" fill="#fff"/>
<ellipse cx="675.6" cy="1951.5" rx="9.0" ry="9.5" stroke-width="1.5" fill="#fff"/>
<ellipse cx="674.0" cy="1952.0" rx="4.0" ry="4.5" stroke-width="1.2" fill="#fff"/>
<path d="M645,1945 L666,1955 M651,1929 Q658,1934 658,1944" stroke-width="1.1" fill="none"/>
<ellipse cx="688.0" cy="1945.0" rx="7.0" ry="8.0" stroke-width="1.3" fill="#fff"/>
<line x1="1026.2" y1="1463.0" x2="1125.5" y2="1510.8" stroke-width="1.2" stroke-dasharray="14,16"/>
<line x1="918.0" y1="1779.0" x2="940.0" y2="1789.0" stroke-width="1.2"/>
<line x1="955.5" y1="1797.2" x2="974.6" y2="1806.0" stroke-width="1.2"/>
<polygon points="1021.6,1563.6 1164.1,1492.8 1169.4,1495.6 1169.4,1700.0 1078.3,1930.3 982.9,1978.4 977.7,1976.1 977.7,1705.3 1021.6,1685.5" stroke-width="1.4" fill="#fff"/>
<line x1="1027.3" y1="1566.4" x2="1169.4" y2="1495.6" stroke-width="1.2"/>
<path d="M1027.3,1566.4 V1687.5 L983.4,1707.3 V1978" stroke-width="1.2" fill="none"/>
<line x1="977.7" y1="1705.3" x2="983.4" y2="1707.3" stroke-width="1.1"/>
<line x1="1021.6" y1="1563.6" x2="1027.3" y2="1566.4" stroke-width="1.1"/>
<ellipse cx="1027.3" cy="1944.3" rx="4.5" ry="6.0" stroke-width="1.3" fill="#fff" transform="rotate(20 1027.3 1944.3)"/>
<line x1="1024.0" y1="1947.0" x2="1031.0" y2="1941.5" stroke-width="1.0"/>
<line x1="1177.0" y1="1537.5" x2="1257.3" y2="1575.7" stroke-width="1.2" stroke-dasharray="16,14"/>
<line x1="1297.0" y1="1596.0" x2="1330.0" y2="1611.0" stroke-width="1.2" stroke-dasharray="14,12"/>
<line x1="1376.0" y1="1634.0" x2="1398.0" y2="1645.0" stroke-width="1.2"/>
<polygon points="1021.4,1712.2 1028.0,1707.0 1115.9,1662.8 1174.5,1672.7 1222.2,1694.9 1222.2,1858.2 1213.7,1864.8 1208.5,1875.2 1205.9,1888.3 1198.0,1896.1 1185.0,1902.6 1177.1,1890.9 1164.1,1894.8 1122.7,1917.7 1108.0,1934.0 1095.0,1932.0 1078.3,1930.3 1033.9,1928.1 1021.4,1920.7" stroke-width="1.4" fill="#fff"/>
<path d="M1028,1707 Q1021.4,1708 1021.4,1716" stroke-width="1.2" fill="none"/>
<path d="M1033.2,1719.6 L1050.2,1705.5 L1066.5,1706.3 L1110.8,1729.9 L1110.5,1736.7 L1106.6,1744.5 L1090.3,1762.8 L1033.9,1737.3 Z" stroke-width="1.3" fill="#fff"/>
<ellipse cx="1039.1" cy="1718.8" rx="3.0" ry="3.8" stroke-width="1.2" fill="#fff"/>
<path d="M1043,1737 Q1047,1725 1052,1720 Q1055,1712 1058,1707 M1047,1738 Q1051,1726 1056,1721 Q1059,1713 1062,1707" stroke-width="1.1" fill="none"/>
<line x1="1027.0" y1="1714.0" x2="1027.0" y2="1925.0" stroke-width="1.1"/>
<line x1="1087.2" y1="1764.0" x2="1087.2" y2="1901.5" stroke-width="1.3"/>
<line x1="1090.1" y1="1764.0" x2="1090.1" y2="1901.5" stroke-width="1.3"/>
<line x1="1110.5" y1="1730.2" x2="1198.0" y2="1687.0" stroke-width="1.3"/>
<line x1="1109.0" y1="1727.8" x2="1196.0" y2="1684.8" stroke-width="1.0"/>
<path d="M1198,1687 L1200,1692 L1205,1694 L1222.2,1694.9" stroke-width="1.2" fill="none"/>
<path d="M1090.1,1901.5 L1106.4,1895.5 L1115.3,1907.4 L1122.7,1917.7 L1174.4,1891.1 L1181.8,1904.4 L1199.6,1897" stroke-width="1.3" fill="none"/>
<path d="M1034,1895 L1040,1892 L1040,1905 M1043,1900 L1052,1896 L1052,1910 M1058,1897 L1066,1893 L1066,1907 M1070,1895 L1080,1902 L1085,1920 M1045,1915 Q1050,1905 1057,1912 Q1063,1920 1070,1915" stroke-width="1.2" fill="none"/>
<polygon points="1095.0,1922.0 1113.0,1914.0 1113.0,1921.0 1095.0,1929.0" stroke-width="1.2" fill="#fff"/>
<path d="M1122,1912 L1165,1893" stroke-width="2.2" fill="none" stroke="#444"/>
<ellipse cx="1039.1" cy="1919.2" rx="3.0" ry="4.0" stroke-width="1.2" fill="#fff"/>
<polygon points="1156.2,1677.9 1173.2,1671.0 1173.2,1804.6 1156.2,1806.0" stroke-width="1.3" fill="#fff"/>
<line x1="1158.5" y1="1678.0" x2="1158.5" y2="1806.0" stroke-width="1.1"/>
<line x1="1171.0" y1="1674.0" x2="1171.0" y2="1805.0" stroke-width="1.0"/>
<ellipse cx="1113.1" cy="1783.7" rx="9.3" ry="11.0" stroke-width="1.3" fill="#fff"/>
<ellipse cx="1114.6" cy="1783.7" rx="7.2" ry="8.8" stroke-width="1.1" fill="#fff"/>
<path d="M1115.1,1778.2 L1124.6,1785.5 L1124.6,1796.5 L1115.1,1789.2 Z" fill="#fff" stroke-width="1.3"/>
<ellipse cx="1124.6" cy="1791.0" rx="4.3" ry="5.8" stroke-width="1.3" fill="#fff"/>
<ellipse cx="1117.1" cy="1784.2" rx="4.5" ry="6.5" stroke-width="1.1" fill="#fff"/>
<ellipse cx="1113.1" cy="1847.8" rx="9.3" ry="11.0" stroke-width="1.3" fill="#fff"/>
<ellipse cx="1114.6" cy="1847.8" rx="7.2" ry="8.8" stroke-width="1.1" fill="#fff"/>
<path d="M1115.1,1842.3 L1124.6,1849.5 L1124.6,1860.5 L1115.1,1853.3 Z" fill="#fff" stroke-width="1.3"/>
<ellipse cx="1124.6" cy="1855.0" rx="4.3" ry="5.8" stroke-width="1.3" fill="#fff"/>
<ellipse cx="1117.1" cy="1848.3" rx="4.5" ry="6.5" stroke-width="1.1" fill="#fff"/>
<ellipse cx="1153.6" cy="1790.3" rx="9.3" ry="11.0" stroke-width="1.3" fill="#fff"/>
<ellipse cx="1155.1" cy="1790.3" rx="7.2" ry="8.8" stroke-width="1.1" fill="#fff"/>
<path d="M1155.6,1784.8 L1173.2,1788.7 L1173.2,1799.7 L1155.6,1795.8 Z" fill="#fff" stroke-width="1.3"/>
<ellipse cx="1173.2" cy="1794.2" rx="4.3" ry="5.8" stroke-width="1.3" fill="#fff"/>
<ellipse cx="1157.6" cy="1790.8" rx="4.5" ry="6.5" stroke-width="1.1" fill="#fff"/>
<line x1="1156.2" y1="1780.0" x2="1156.2" y2="1806.0" stroke-width="1.3"/>
<ellipse cx="1207.2" cy="1731.5" rx="9.3" ry="11.0" stroke-width="1.3" fill="#fff"/>
<ellipse cx="1208.7" cy="1731.5" rx="7.2" ry="8.8" stroke-width="1.1" fill="#fff"/>
<path d="M1209.2,1726.0 L1222.2,1735.1 L1222.2,1746.1 L1209.2,1737.0 Z" fill="#fff" stroke-width="1.3"/>
<ellipse cx="1222.2" cy="1740.6" rx="4.3" ry="5.8" stroke-width="1.3" fill="#fff"/>
<ellipse cx="1211.2" cy="1732.0" rx="4.5" ry="6.5" stroke-width="1.1" fill="#fff"/>
<ellipse cx="1194.1" cy="1772.0" rx="9.3" ry="11.0" stroke-width="1.3" fill="#fff"/>
<ellipse cx="1195.6" cy="1772.0" rx="7.2" ry="8.8" stroke-width="1.1" fill="#fff"/>
<path d="M1196.1,1766.5 L1205.9,1774.3 L1205.9,1785.3 L1196.1,1777.5 Z" fill="#fff" stroke-width="1.3"/>
<ellipse cx="1205.9" cy="1779.8" rx="4.3" ry="5.8" stroke-width="1.3" fill="#fff"/>
<ellipse cx="1198.1" cy="1772.5" rx="4.5" ry="6.5" stroke-width="1.1" fill="#fff"/>
<ellipse cx="1204.6" cy="1798.1" rx="9.3" ry="11.0" stroke-width="1.3" fill="#fff"/>
<ellipse cx="1206.1" cy="1798.1" rx="7.2" ry="8.8" stroke-width="1.1" fill="#fff"/>
<path d="M1206.6,1792.6 L1221.6,1797.8 L1221.6,1808.8 L1206.6,1803.6 Z" fill="#fff" stroke-width="1.3"/>
<ellipse cx="1221.6" cy="1803.3" rx="4.3" ry="5.8" stroke-width="1.3" fill="#fff"/>
<ellipse cx="1208.6" cy="1798.6" rx="4.5" ry="6.5" stroke-width="1.1" fill="#fff"/>
<path d="M1189,1741 Q1186,1748 1192,1754 L1200,1757" stroke-width="1.2" fill="none"/>
<polygon points="1129.3,1528.9 1148.5,1519.0 1165.5,1525.3 1165.5,1607.5 1147.0,1614.6 1129.3,1604.7" stroke-width="1.3" fill="#fff"/>
<line x1="1129.3" y1="1528.9" x2="1141.0" y2="1535.5" stroke-width="1.1"/>
<line x1="1141.0" y1="1535.5" x2="1165.5" y2="1525.3" stroke-width="1.1"/>
<line x1="1141.0" y1="1535.5" x2="1141.0" y2="1608.0" stroke-width="1.1"/>
<ellipse cx="1156.0" cy="1545.0" rx="8.0" ry="10.0" stroke-width="1.3" fill="#fff"/>
<polygon points="1158,1542 1168,1538 1175,1543 1175,1553 1165,1557 1158,1552" fill="#fff" stroke-width="1.3"/>
<polygon points="1168.0,1545.0 1180.0,1552.0 1182.0,1562.0 1170.0,1556.0" stroke-width="1.3" fill="#fff"/>
<ellipse cx="1181.0" cy="1559.4" rx="3.8" ry="5.0" stroke-width="1.3" fill="#fff"/>
<path d="M1152,1545 L1160,1538 Q1164,1537 1167,1540" stroke-width="1.2" fill="none"/>
<polygon points="1090.4,1559.4 1117.3,1545.9 1152.7,1565.0 1128.6,1572.1" stroke-width="1.3" fill="#fff"/>
<polygon points="1128.6,1572.1 1152.7,1565.0 1152.7,1607.5 1128.6,1624.5" stroke-width="1.3" fill="#fff"/>
<polygon points="1090.4,1559.4 1128.6,1572.1 1128.6,1624.5 1093.2,1616.0" stroke-width="1.3" fill="#fff"/>
<path d="M1092.5,1562 L1117,1553 L1127,1560 V1622" stroke-width="1.0" fill="none"/>
<ellipse cx="1133.6" cy="1597.6" rx="1.7" ry="2.2" stroke-width="1.0" fill="#fff"/>
<ellipse cx="1133.6" cy="1612.6" rx="1.7" ry="2.2" stroke-width="1.0" fill="#fff"/>
<ellipse cx="1150.6" cy="1589.4" rx="1.7" ry="2.2" stroke-width="1.0" fill="#fff"/>
<ellipse cx="1150.6" cy="1604.3" rx="1.7" ry="2.2" stroke-width="1.0" fill="#fff"/>
<path d="M1087.5,1570 V1607 M1098,1572 L1098,1612 M1086.5,1575 L1097,1579 L1097,1586 L1087,1583 M1086.5,1594 L1097,1598 L1097,1605 L1087,1602" stroke-width="1.2" fill="none"/>
<path d="M1108.5,1578 V1617 M1108.5,1586 L1121.5,1591 V1599 L1108.5,1594 M1108.5,1603 L1121.5,1608 V1616 L1108.5,1611" stroke-width="1.2" fill="none"/>
<polygon points="1063.4,1574.2 1080.4,1566.4 1080.4,1597.6 1063.4,1605.4" stroke-width="1.3" fill="#fff"/>
<path d="M1066,1589.5 L1075.5,1585 Q1078,1588 1075,1591 L1067,1594" stroke-width="1.2" fill="none"/>
<ellipse cx="1066.0" cy="1591.5" rx="2.6" ry="2.6" stroke-width="1.2" fill="#fff"/>
<polygon points="1079.7,1606.1 1127.2,1628.5 1127.2,1664.2 1079.7,1641.5" stroke-width="1.3" fill="#fff"/>
<polygon points="1127.2,1628.5 1164.8,1611.8 1164.8,1651.5 1127.2,1664.2" stroke-width="1.3" fill="#fff"/>
<text x="0" y="0" font-size="8.5" font-weight="bold" stroke="none" fill="#000" transform="translate(1125.5,1651) rotate(-148) scale(1,1)" >Contractor</text>
<ellipse cx="1178.2" cy="1633.0" rx="10.0" ry="12.0" stroke-width="1.4" fill="#fff"/>
<polygon points="1172,1624 1184,1622 1190,1632 1185,1643 1173,1644 1168,1634" fill="#fff" stroke-width="1.3"/>
<ellipse cx="1180.0" cy="1633.0" rx="4.3" ry="5.6" stroke-width="1.3" fill="#fff"/>
<path d="M1102,1654 V1663 Q1106,1667 1112,1664 V1657 M1131,1667 V1675 Q1136,1679 1142,1675 V1667" stroke-width="1.1" fill="none"/>
<path d="M1160,1655 L1172,1660 L1175,1673 L1166,1670 Z" stroke-width="1.1" fill="none"/>
<line x1="1183.0" y1="1908.0" x2="1258.0" y2="1945.0" stroke-width="1.2" stroke-dasharray="16,14"/>
<line x1="1300.0" y1="1965.0" x2="1335.0" y2="1982.0" stroke-width="1.2" stroke-dasharray="14,12"/>
<line x1="1376.0" y1="2001.0" x2="1398.0" y2="2011.0" stroke-width="1.2"/>
<line x1="1051.0" y1="1955.5" x2="1205.0" y2="2034.0" stroke-width="1.2" stroke-dasharray="16,14"/>
<line x1="1238.0" y1="2050.0" x2="1270.0" y2="2066.0" stroke-width="1.2" stroke-dasharray="14,12"/>
<line x1="1305.0" y1="2084.0" x2="1335.0" y2="2099.0" stroke-width="1.2"/>
<ellipse cx="1284.0" cy="1588.0" rx="13.4" ry="17.2" stroke-width="1.4" fill="#fff" transform="rotate(-18 1284.0 1588.0)"/>
<ellipse cx="1285.6" cy="1587.7" rx="11.4" ry="15.1" stroke-width="1.0" fill="none" transform="rotate(-18 1285.6 1587.7)"/>
<ellipse cx="1284.6" cy="1588.0" rx="6.4" ry="9.5" stroke-width="1.3" fill="none" transform="rotate(-18 1284.6 1588.0)"/>
<ellipse cx="1349.7" cy="1620.8" rx="10.7" ry="14.5" stroke-width="1.4" fill="#fff" transform="rotate(-18 1349.7 1620.8)"/>
<ellipse cx="1351.3" cy="1620.5" rx="9.1" ry="12.8" stroke-width="1.0" fill="none" transform="rotate(-18 1351.3 1620.5)"/>
<ellipse cx="1350.3" cy="1620.8" rx="5.1" ry="8.0" stroke-width="1.3" fill="none" transform="rotate(-18 1350.3 1620.8)"/>
<line x1="1347.7" y1="1628.0" x2="1350.7" y2="1634.6" stroke-width="1.6"/>
<ellipse cx="1283.6" cy="1959.4" rx="13.8" ry="16.6" stroke-width="1.4" fill="#fff" transform="rotate(-18 1283.6 1959.4)"/>
<ellipse cx="1285.2" cy="1959.1" rx="11.7" ry="14.6" stroke-width="1.0" fill="none" transform="rotate(-18 1285.2 1959.1)"/>
<ellipse cx="1284.2" cy="1959.4" rx="6.6" ry="9.1" stroke-width="1.3" fill="none" transform="rotate(-18 1284.2 1959.4)"/>
<ellipse cx="1349.9" cy="1992.1" rx="11.8" ry="15.0" stroke-width="1.4" fill="#fff" transform="rotate(-18 1349.9 1992.1)"/>
<ellipse cx="1351.5" cy="1991.8" rx="10.0" ry="13.2" stroke-width="1.0" fill="none" transform="rotate(-18 1351.5 1991.8)"/>
<ellipse cx="1350.5" cy="1992.1" rx="5.7" ry="8.2" stroke-width="1.3" fill="none" transform="rotate(-18 1350.5 1992.1)"/>
<line x1="1347.9" y1="1999.6" x2="1350.9" y2="2006.3" stroke-width="1.6"/>
<ellipse cx="1222.5" cy="2042.2" rx="13.8" ry="16.6" stroke-width="1.4" fill="#fff" transform="rotate(-18 1222.5 2042.2)"/>
<ellipse cx="1224.1" cy="2041.9" rx="11.7" ry="14.6" stroke-width="1.0" fill="none" transform="rotate(-18 1224.1 2041.9)"/>
<ellipse cx="1223.1" cy="2042.2" rx="6.6" ry="9.1" stroke-width="1.3" fill="none" transform="rotate(-18 1223.1 2042.2)"/>
<ellipse cx="1289.5" cy="2073.8" rx="11.8" ry="15.0" stroke-width="1.4" fill="#fff" transform="rotate(-18 1289.5 2073.8)"/>
<ellipse cx="1291.1" cy="2073.5" rx="10.0" ry="13.2" stroke-width="1.0" fill="none" transform="rotate(-18 1291.1 2073.5)"/>
<ellipse cx="1290.1" cy="2073.8" rx="5.7" ry="8.2" stroke-width="1.3" fill="none" transform="rotate(-18 1290.1 2073.8)"/>
<line x1="1287.5" y1="2081.3" x2="1290.5" y2="2088.1" stroke-width="1.6"/>
<g transform="translate(1397.5,1648.5) rotate(24.7)">
<path d="M0,-8.8 L38,-8.8 L38,8.8 L0,8.8 A5.98,8.8 0 0 1 0,-8.8 Z" fill="#fff" stroke-width="1.3"/>
<path d="M38,-12.8 L56,-12.8 L56,12.8 L38,12.8 A8.70,12.8 0 0 1 38,-12.8 Z" fill="#fff" stroke-width="1.3"/>
<ellipse cx="56" cy="0" rx="8.70" ry="12.8" fill="#fff" stroke-width="1.5"/>
<ellipse cx="56.6" cy="0" rx="6.96" ry="10.24" fill="#fff" stroke-width="1.2"/>
<polygon points="60.76,1.89 57.57,6.24 53.41,4.35 52.44,-1.89 55.63,-6.24 59.79,-4.35" fill="#fff" stroke-width="1.2"/>
<line x1="53.99" y1="-1.92" x2="55.73" y2="5.12" stroke-width="1.0"/>
</g>
<g transform="translate(1397.5,2017.1) rotate(24.7)">
<path d="M0,-8.8 L38,-8.8 L38,8.8 L0,8.8 A5.98,8.8 0 0 1 0,-8.8 Z" fill="#fff" stroke-width="1.3"/>
<path d="M38,-12.8 L56,-12.8 L56,12.8 L38,12.8 A8.70,12.8 0 0 1 38,-12.8 Z" fill="#fff" stroke-width="1.3"/>
<ellipse cx="56" cy="0" rx="8.70" ry="12.8" fill="#fff" stroke-width="1.5"/>
<ellipse cx="56.6" cy="0" rx="6.96" ry="10.24" fill="#fff" stroke-width="1.2"/>
<polygon points="60.76,1.89 57.57,6.24 53.41,4.35 52.44,-1.89 55.63,-6.24 59.79,-4.35" fill="#fff" stroke-width="1.2"/>
<line x1="53.99" y1="-1.92" x2="55.73" y2="5.12" stroke-width="1.0"/>
</g>
<g transform="translate(1336.4,2098.0) rotate(24.7)">
<path d="M0,-8.8 L38,-8.8 L38,8.8 L0,8.8 A5.98,8.8 0 0 1 0,-8.8 Z" fill="#fff" stroke-width="1.3"/>
<path d="M38,-12.8 L56,-12.8 L56,12.8 L38,12.8 A8.70,12.8 0 0 1 38,-12.8 Z" fill="#fff" stroke-width="1.3"/>
<ellipse cx="56" cy="0" rx="8.70" ry="12.8" fill="#fff" stroke-width="1.5"/>
<ellipse cx="56.6" cy="0" rx="6.96" ry="10.24" fill="#fff" stroke-width="1.2"/>
<polygon points="60.76,1.89 57.57,6.24 53.41,4.35 52.44,-1.89 55.63,-6.24 59.79,-4.35" fill="#fff" stroke-width="1.2"/>
<line x1="53.99" y1="-1.92" x2="55.73" y2="5.12" stroke-width="1.0"/>
</g>
<path d="M1088.4,1972 Q1089,1968 1093,1968 L1104,1966 Q1108,1966 1108.1,1970 V2036 L1090,2040 Z" stroke-width="1.3" fill="#fff"/>
<line x1="1091.5" y1="1975.0" x2="1091.5" y2="2035.0" stroke-width="1.0"/>
<ellipse cx="1098.5" cy="1973.0" rx="2.6" ry="3.2" stroke-width="1.2" fill="#fff"/>
<ellipse cx="1121.5" cy="2062.0" rx="40.0" ry="49.5" stroke-width="1.4" fill="#fff"/>
<ellipse cx="1127.0" cy="2059.5" rx="37.5" ry="47.5" stroke-width="1.3" fill="#fff"/>
<ellipse cx="1128.0" cy="2060.0" rx="26.0" ry="33.0" stroke-width="1.3" fill="#fff"/>
<ellipse cx="1128.5" cy="2060.0" rx="14.0" ry="17.5" stroke-width="1.3" fill="#fff"/>
<ellipse cx="1128.5" cy="2060.0" rx="5.5" ry="6.8" stroke-width="1.3" fill="#fff"/>
<path d="M1082,2055 L1080,2058 L1082,2070" stroke-width="1.2" fill="none"/>
<ellipse cx="1044.8" cy="894.6" rx="19.2" ry="19.2" stroke-width="1.4" fill="#fff"/>
<text x="1036.6" y="904.7" font-size="28.4" textLength="16.3" lengthAdjust="spacingAndGlyphs" font-weight="bold" stroke="none" fill="#000">D</text>
<ellipse cx="670.2" cy="1218.9" rx="19.2" ry="19.2" stroke-width="1.4" fill="#fff"/>
<text x="662.0" y="1229.0" font-size="28.4" textLength="16.3" lengthAdjust="spacingAndGlyphs" font-weight="bold" stroke="none" fill="#000">D</text>
<ellipse cx="614.0" cy="1310.2" rx="19.2" ry="19.2" stroke-width="1.4" fill="#fff"/>
<text x="605.8" y="1320.3" font-size="28.4" textLength="16.3" lengthAdjust="spacingAndGlyphs" font-weight="bold" stroke="none" fill="#000">B</text>
<ellipse cx="628.5" cy="1479.1" rx="19.5" ry="19.5" stroke-width="1.4" fill="#fff"/>
<text x="620.2" y="1489.3" font-size="28.8" textLength="16.6" lengthAdjust="spacingAndGlyphs" font-weight="bold" stroke="none" fill="#000">A</text>
<ellipse cx="1007.0" cy="1451.6" rx="19.5" ry="19.5" stroke-width="1.4" fill="#fff"/>
<text x="998.7" y="1461.8" font-size="28.8" textLength="16.6" lengthAdjust="spacingAndGlyphs" font-weight="bold" stroke="none" fill="#000">B</text>
<ellipse cx="900.9" cy="1769.7" rx="19.5" ry="19.5" stroke-width="1.4" fill="#fff"/>
<text x="892.6" y="1779.9" font-size="28.8" textLength="16.6" lengthAdjust="spacingAndGlyphs" font-weight="bold" stroke="none" fill="#000">A</text>
</svg>
</body></html>
